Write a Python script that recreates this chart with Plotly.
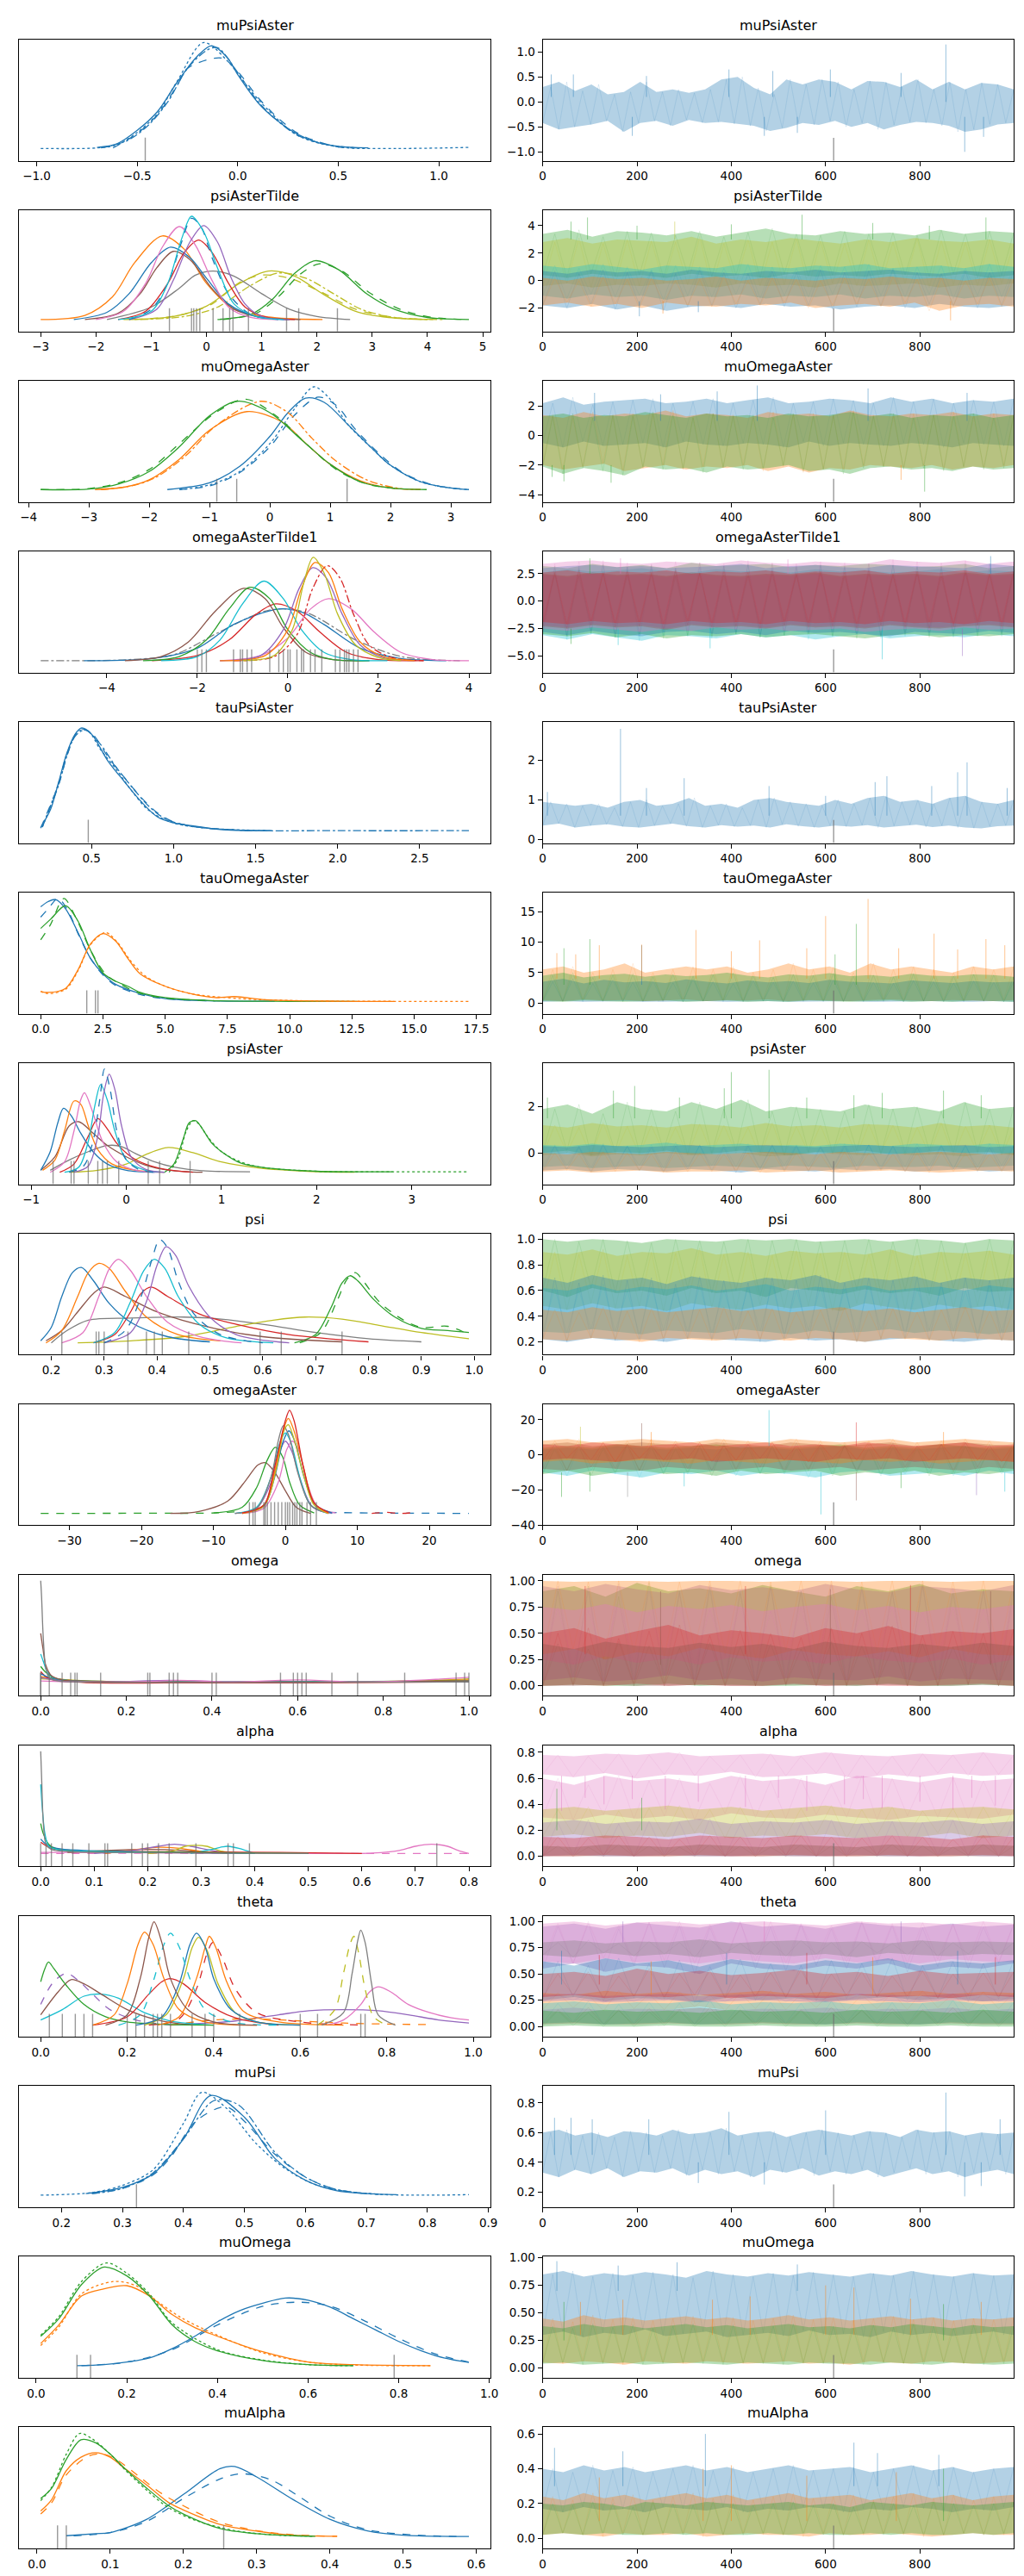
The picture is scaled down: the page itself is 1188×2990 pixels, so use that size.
import plotly.graph_objects as go

W, H = 1188, 2990

TAB10 = {"C0": "#1f77b4", "C1": "#ff7f0e", "C2": "#2ca02c", "C3": "#d62728", "C4": "#9467bd",
         "C5": "#8c564b", "C6": "#e377c2", "C7": "#7f7f7f", "C8": "#bcbd22", "C9": "#17becf"}

N_DRAWS = 999
DIVERGENT_DRAWS = [617]
TRACE_XTICKS = [0, 200, 400, 600, 800]

# ---------------- muPsiAster ----------------
MUPSIASTER_KDE = [
    ("C0", "solid", [-0.7, -0.6, -0.5, -0.4, -0.3, -0.2, -0.13, -0.05, 0.0, 0.1, 0.2, 0.3, 0.4, 0.5, 0.65],
     [0.015, 0.05, 0.18, 0.36, 0.65, 0.9, 1.0, 0.88, 0.72, 0.45, 0.27, 0.14, 0.06, 0.025, 0.01]),
    ("C0", "dash", [-0.62, -0.5, -0.4, -0.3, -0.25, -0.08, 0.0, 0.1, 0.2, 0.3, 0.4, 0.5, 0.6],
     [0.01, 0.15, 0.33, 0.62, 0.78, 0.88, 0.75, 0.5, 0.3, 0.15, 0.07, 0.02, 0.01]),
    ("C0", "dot", [-0.98, -0.7, -0.6, -0.5, -0.4, -0.3, -0.17, -0.05, 0.05, 0.15, 0.3, 0.5, 0.8, 1.15],
     [0.005, 0.01, 0.04, 0.16, 0.34, 0.66, 1.03, 0.85, 0.6, 0.38, 0.13, 0.02, 0.005, 0.015]),
    ("C0", "dashdot", [-0.68, -0.55, -0.45, -0.35, -0.25, -0.15, -0.1, 0.0, 0.1, 0.2, 0.3, 0.45, 0.6],
     [0.01, 0.08, 0.22, 0.45, 0.78, 0.96, 0.98, 0.74, 0.46, 0.27, 0.13, 0.04, 0.01]),
]
MUPSIASTER_RUG = [-0.46]
MUPSIASTER_TRACE = [
    ("C0", [-0.42, -0.55, -0.5, -0.45, -0.38, -0.6, -0.42, -0.38, -0.48, -0.36, -0.42, -0.4, -0.44, -0.48, -0.58,
            -0.52, -0.42, -0.46, -0.38, -0.5, -0.42, -0.55, -0.46, -0.4, -0.42, -0.48, -0.6, -0.55, -0.45, -0.42],
     [0.3, 0.4, 0.22, 0.35, 0.15, 0.2, 0.4, 0.2, 0.25, 0.18, 0.25, 0.45, 0.5, 0.28, 0.15,
      0.45, 0.35, 0.45, 0.4, 0.25, 0.42, 0.4, 0.3, 0.45, 0.25, 0.4, 0.25, 0.38, 0.35, 0.25]),
]
MUPSIASTER_SPIKES = [("C0", 18, 0.1, 0.55), ("C0", 65, 0.1, 0.55), ("C0", 220, 0.1, 0.52), ("C0", 395, 0.1, 0.65),
                     ("C0", 488, 0.1, 0.62), ("C0", 855, 0.0, 1.15), ("C0", 895, -0.3, -1.0), ("C0", 760, 0.1, 0.58),
                     ("C0", 190, -0.3, -0.68), ("C0", 470, -0.3, -0.68), ("C0", 540, -0.3, -0.62),
                     ("C0", 610, 0.1, 0.65), ("C0", 935, -0.3, -0.7)]
MUPSIASTER_XTICKS = [-1.0, -0.5, 0.0, 0.5, 1.0]
MUPSIASTER_YTICKS = [-1.0, -0.5, 0.0, 0.5, 1.0]
MUPSIASTER_YRANGE = [-1.18, 1.25]

# ---------------- psiAsterTilde ----------------
PSIASTERTILDE_KDE = [
    ("C8", "solid", [-1.5, -0.6, 0.0, 0.6, 1.12, 1.6, 2.1, 2.7, 3.3, 4.0], [0.0, 0.03, 0.13, 0.35, 0.47, 0.42, 0.25, 0.08, 0.02, 0.0]),
    ("C8", "dash", [-1.3, -0.5, 0.1, 0.6, 1.0, 1.5, 2.1, 2.7, 3.4, 4.2], [0.0, 0.04, 0.15, 0.36, 0.43, 0.4, 0.26, 0.1, 0.02, 0.0]),
    ("C8", "dashdot", [-1.2, -0.4, 0.2, 0.8, 1.3, 1.8, 2.3, 2.8, 3.4, 4.3], [0.0, 0.03, 0.12, 0.33, 0.45, 0.4, 0.25, 0.1, 0.02, 0.0]),
    ("C7", "solid", [-1.8, -1.0, -0.5, -0.2, 0.12, 0.5, 1.0, 1.5, 2.0, 2.6], [0.0, 0.12, 0.3, 0.43, 0.47, 0.42, 0.25, 0.1, 0.03, 0.0]),
    ("C2", "solid", [0.2, 0.8, 1.2, 1.6, 1.97, 2.4, 2.9, 3.4, 4.0, 4.75], [0.0, 0.05, 0.2, 0.45, 0.57, 0.48, 0.25, 0.1, 0.02, 0.0]),
    ("C2", "dash", [0.3, 0.9, 1.3, 1.7, 2.05, 2.45, 2.95, 3.5, 4.1, 4.75], [0.0, 0.06, 0.22, 0.44, 0.54, 0.47, 0.26, 0.1, 0.02, 0.0]),
    ("C1", "solid", [-3.0, -2.2, -1.7, -1.3, -0.8, -0.4, 0.0, 0.5, 1.2, 2.1], [0.0, 0.04, 0.22, 0.55, 0.81, 0.68, 0.35, 0.1, 0.02, 0.0]),
    ("C5", "solid", [-2.2, -1.6, -1.2, -0.9, -0.6, -0.3, 0.1, 0.5, 1.0, 1.7], [0.0, 0.06, 0.25, 0.5, 0.66, 0.58, 0.3, 0.1, 0.02, 0.0]),
    ("C0", "solid", [-2.4, -1.8, -1.4, -1.0, -0.65, -0.3, 0.0, 0.4, 0.9, 1.5], [0.0, 0.07, 0.25, 0.55, 0.7, 0.6, 0.4, 0.15, 0.03, 0.0]),
    ("C3", "solid", [-1.6, -1.1, -0.7, -0.4, -0.14, 0.1, 0.4, 0.7, 1.1, 1.6], [0.0, 0.08, 0.35, 0.65, 0.77, 0.65, 0.35, 0.12, 0.02, 0.0]),
    ("C6", "solid", [-2.0, -1.5, -1.1, -0.8, -0.49, -0.2, 0.1, 0.4, 0.8, 1.3], [0.0, 0.08, 0.35, 0.7, 0.9, 0.72, 0.38, 0.12, 0.02, 0.0]),
    ("C4", "solid", [-1.4, -0.9, -0.6, -0.3, -0.05, 0.2, 0.45, 0.7, 1.0, 1.5], [0.0, 0.1, 0.38, 0.75, 0.91, 0.75, 0.4, 0.15, 0.03, 0.0]),
    ("C0", "dash", [-1.4, -1.0, -0.7, -0.45, -0.27, -0.1, 0.1, 0.4, 0.8, 1.3], [0.0, 0.1, 0.35, 0.75, 0.98, 0.9, 0.6, 0.25, 0.05, 0.0]),
    ("C9", "solid", [-1.6, -1.0, -0.7, -0.45, -0.27, -0.05, 0.2, 0.5, 0.9, 1.4], [0.0, 0.08, 0.35, 0.78, 1.0, 0.85, 0.5, 0.15, 0.03, 0.0]),
]
PSIASTERTILDE_RUG = [-0.67, -0.27, -0.23, -0.18, -0.12, 0.12, 0.3, 0.42, 0.48, 0.76, 1.45, 1.67, 2.37]
PSIASTERTILDE_TRACE = [
    ("C2", [0.4, 0.2, 0.5, 0.3, 0.4, 0.2, 0.5, 0.3, 0.4, 0.2, 0.5, 0.3, 0.4, 0.3, 0.5, 0.4, 0.3, 0.5, 0.2, 0.4],
     [3.4, 3.7, 3.2, 3.6, 3.5, 3.3, 3.6, 3.2, 3.5, 3.8, 3.4, 3.3, 3.6, 3.4, 3.5, 3.3, 3.7, 3.4, 3.6, 3.5]),
    ("C8", [-0.4, -0.2, -0.5, -0.3, -0.4, -0.2, -0.3, -0.5, -0.2, -0.4, -0.3, -0.5, -0.2, -0.4, -0.3, -0.2, -0.5, -0.3, -0.4, -0.2],
     [2.8, 3.1, 2.7, 3.0, 2.9, 2.8, 3.2, 2.7, 3.0, 2.8, 3.1, 2.9, 2.7, 3.0, 2.8, 3.1, 2.9, 2.8, 3.0, 2.7]),
    ("C9", [-1.1, -1.3, -1.0, -1.2, -1.1, -1.4, -1.1, -1.2, -1.0, -1.3, -1.1, -1.2, -1.0, -1.3, -1.1, -1.2, -1.0, -1.3, -1.1, -1.2],
     [1.1, 0.9, 1.2, 1.0, 0.8, 1.1, 1.0, 0.9, 1.2, 1.0, 0.9, 1.1, 1.0, 1.2, 0.9, 1.0, 1.1, 0.9, 1.2, 1.0]),
    ("C0", [-1.8, -2.0, -1.7, -2.1, -1.8, -2.2, -1.9, -1.8, -2.0, -1.7, -1.9, -1.8, -2.1, -1.9, -1.8, -2.0, -1.7, -1.9, -2.0, -1.8],
     [0.7, 0.5, 0.8, 0.6, 0.7, 0.5, 0.8, 0.6, 0.5, 0.7, 0.6, 0.8, 0.6, 0.7, 0.8, 0.6, 0.5, 0.7, 0.6, 0.7]),
    ("C1", [-1.8, -1.6, -1.9, -1.7, -2.0, -1.6, -1.8, -1.9, -1.7, -1.8, -1.6, -2.0, -1.8, -1.7, -1.9, -1.6, -2.2, -1.8, -1.7, -1.9],
     [0.2, 0.0, 0.3, 0.1, 0.2, 0.0, 0.1, 0.3, 0.0, 0.2, 0.1, 0.0, 0.2, 0.1, 0.3, 0.1, 0.2, 0.0, 0.2, 0.1]),
]
PSIASTERTILDE_SPIKES = [("C2", 95, 3.0, 4.6), ("C2", 550, 3.0, 4.8), ("C2", 940, 3.0, 4.6), ("C2", 60, 3.0, 4.3),
                        ("C8", 280, 3.0, 4.3), ("C2", 200, 3.0, 4.0), ("C2", 400, 3.0, 4.1), ("C2", 700, 3.0, 4.2),
                        ("C2", 820, 3.0, 4.0), ("C1", 865, -1.5, -2.9), ("C0", 205, -1.5, -2.6),
                        ("C0", 330, -1.5, -2.3), ("C1", 255, -1.5, -2.4)]
PSIASTERTILDE_XTICKS = [-3, -2, -1, 0, 1, 2, 3, 4, 5]
PSIASTERTILDE_YTICKS = [-2, 0, 2, 4]
PSIASTERTILDE_YRANGE = [-3.7, 5.14]

# ---------------- muOmegaAster ----------------
MUOMEGAASTER_KDE = [
    ("C0", "solid", [-1.7, -1.0, -0.5, 0.0, 0.3, 0.59, 0.9, 1.3, 1.7, 2.0, 2.5, 3.0, 3.3],
     [0.005, 0.07, 0.23, 0.52, 0.75, 0.89, 0.85, 0.63, 0.4, 0.24, 0.08, 0.02, 0.005]),
    ("C0", "dot", [-1.5, -1.0, -0.5, 0.0, 0.4, 0.73, 1.0, 1.3, 1.7, 2.0, 2.5, 3.0, 3.3],
     [0.005, 0.05, 0.18, 0.45, 0.78, 1.0, 0.88, 0.63, 0.4, 0.24, 0.08, 0.02, 0.005]),
    ("C0", "dash", [-1.5, -1.0, -0.5, 0.0, 0.4, 0.8, 1.1, 1.4, 1.8, 2.2, 2.7, 3.2],
     [0.005, 0.04, 0.17, 0.42, 0.72, 0.9, 0.82, 0.6, 0.36, 0.17, 0.05, 0.01]),
    ("C1", "solid", [-2.9, -2.4, -2.0, -1.5, -1.0, -0.38, 0.2, 0.6, 1.0, 1.5, 2.0, 2.5],
     [0.005, 0.03, 0.1, 0.3, 0.58, 0.76, 0.66, 0.45, 0.25, 0.09, 0.02, 0.005]),
    ("C1", "dashdot", [-2.8, -2.3, -1.9, -1.4, -0.9, -0.15, 0.3, 0.7, 1.1, 1.6, 2.1, 2.5],
     [0.005, 0.04, 0.12, 0.33, 0.62, 0.86, 0.75, 0.5, 0.28, 0.1, 0.02, 0.005]),
    ("C2", "solid", [-3.8, -3.0, -2.5, -2.0, -1.5, -1.0, -0.54, 0.0, 0.5, 1.0, 1.5, 2.0, 2.6],
     [0.005, 0.01, 0.06, 0.18, 0.42, 0.72, 0.86, 0.75, 0.5, 0.25, 0.08, 0.02, 0.005]),
    ("C2", "dash", [-3.8, -3.0, -2.5, -2.0, -1.5, -0.9, -0.4, 0.1, 0.6, 1.1, 1.6, 2.2],
     [0.005, 0.015, 0.07, 0.2, 0.45, 0.75, 0.88, 0.72, 0.45, 0.2, 0.06, 0.01]),
]
MUOMEGAASTER_RUG = [-0.88, -0.55, 1.28]
MUOMEGAASTER_TRACE = [
    ("C0", [-0.5, -0.8, -0.4, -0.7, -0.6, -0.5, -0.8, -0.4, -0.6, -0.7, -0.5, -0.6, -0.8, -0.4, -0.7, -0.5, -0.6, -0.7, -0.5, -0.6, -0.8, -0.5, -0.6, -0.7],
     [2.2, 2.6, 2.1, 2.3, 2.4, 2.5, 2.2, 2.3, 2.5, 2.2, 2.4, 2.6, 2.2, 2.3, 2.5, 2.4, 2.2, 2.6, 2.3, 2.5, 2.2, 2.4, 2.3, 2.5]),
    ("C1", [-2.0, -2.3, -2.1, -1.9, -2.4, -2.2, -2.0, -2.3, -2.1, -2.2, -2.0, -2.4, -2.1, -2.5, -2.2, -2.3, -2.0, -2.1, -2.2, -2.0, -2.3, -2.1, -2.2, -2.0],
     [1.4, 1.2, 1.6, 1.3, 1.5, 1.4, 1.7, 1.3, 1.5, 1.4, 1.2, 1.6, 1.4, 1.5, 1.3, 1.7, 1.4, 1.3, 1.5, 1.4, 1.6, 1.3, 1.5, 1.4]),
    ("C2", [-2.1, -2.6, -2.2, -2.4, -2.7, -2.1, -2.3, -2.2, -2.5, -2.1, -2.3, -2.2, -2.0, -2.4, -2.3, -2.6, -2.2, -2.1, -2.3, -2.2, -2.4, -2.1, -2.3, -2.2],
     [1.3, 1.5, 1.2, 1.4, 1.3, 1.6, 1.4, 1.2, 1.5, 1.3, 1.4, 1.2, 1.5, 1.3, 1.4, 1.6, 1.3, 1.5, 1.2, 1.4, 1.3, 1.5, 1.2, 1.4]),
]
MUOMEGAASTER_SPIKES = [("C0", 455, 1.0, 3.4), ("C0", 690, 1.0, 3.2), ("C0", 110, 1.0, 2.9), ("C0", 370, 1.0, 3.0),
                       ("C0", 250, 1.0, 2.8), ("C0", 900, 1.0, 2.9), ("C1", 760, -2.0, -3.0), ("C2", 45, -2.0, -3.1),
                       ("C2", 145, -2.0, -3.2), ("C2", 810, -2.0, -3.8), ("C2", 20, -2.0, -2.8)]
MUOMEGAASTER_XTICKS = [-4, -3, -2, -1, 0, 1, 2, 3]
MUOMEGAASTER_YTICKS = [-4, -2, 0, 2]
MUOMEGAASTER_YRANGE = [-4.5, 3.73]

# ---------------- omegaAsterTilde1 ----------------
OMEGAASTERTILDE1_KDE = [
    ("C7", "dashdot", [-5.46, -3.5, -2.5, -1.5, -0.5, 0.0, 0.5, 1.5, 2.5, 3.8], [0.0, 0.01, 0.06, 0.28, 0.48, 0.5, 0.45, 0.2, 0.04, 0.0]),
    ("C0", "solid", [-4.5, -3.0, -2.0, -1.2, -0.2, 0.3, 0.8, 1.6, 2.5, 3.5], [0.0, 0.02, 0.12, 0.35, 0.5, 0.47, 0.35, 0.12, 0.02, 0.0]),
    ("C3", "solid", [-3.0, -2.0, -1.3, -0.7, -0.27, 0.2, 0.7, 1.3, 2.0, 3.0], [0.0, 0.05, 0.2, 0.45, 0.55, 0.48, 0.28, 0.08, 0.01, 0.0]),
    ("C5", "solid", [-3.6, -2.8, -2.2, -1.6, -0.98, -0.5, -0.1, 0.4, 1.0, 1.8], [0.0, 0.04, 0.18, 0.48, 0.7, 0.6, 0.32, 0.08, 0.01, 0.0]),
    ("C2", "solid", [-3.2, -2.4, -1.8, -1.3, -0.84, -0.4, 0.0, 0.5, 1.0, 1.8], [0.0, 0.04, 0.2, 0.5, 0.71, 0.6, 0.3, 0.08, 0.01, 0.0]),
    ("C9", "solid", [-2.8, -2.0, -1.5, -1.0, -0.53, -0.1, 0.3, 0.8, 1.4, 2.2], [0.0, 0.04, 0.2, 0.55, 0.77, 0.6, 0.3, 0.08, 0.01, 0.0]),
    ("C6", "solid", [-1.5, -0.6, 0.0, 0.5, 0.9, 1.4, 1.9, 2.5, 3.2, 4.0], [0.0, 0.05, 0.22, 0.5, 0.6, 0.5, 0.28, 0.08, 0.01, 0.0]),
    ("C4", "solid", [-1.5, -0.6, -0.1, 0.25, 0.55, 0.85, 1.2, 1.6, 2.1, 2.8], [0.0, 0.05, 0.3, 0.7, 0.9, 0.8, 0.45, 0.15, 0.03, 0.0]),
    ("C3", "dashdot", [-1.2, -0.3, 0.2, 0.55, 0.87, 1.15, 1.45, 1.8, 2.3, 3.0], [0.0, 0.04, 0.25, 0.7, 0.92, 0.8, 0.45, 0.15, 0.03, 0.0]),
    ("C1", "solid", [-1.5, -0.5, 0.0, 0.3, 0.6, 0.9, 1.2, 1.6, 2.1, 2.8], [0.0, 0.05, 0.3, 0.7, 0.95, 0.85, 0.5, 0.18, 0.04, 0.0]),
    ("C8", "solid", [-1.0, -0.3, 0.1, 0.35, 0.56, 0.8, 1.1, 1.5, 2.0, 2.5], [0.0, 0.05, 0.3, 0.75, 1.0, 0.85, 0.45, 0.15, 0.03, 0.0]),
]
OMEGAASTERTILDE1_RUG = [-2.0, -1.9, -1.8, -1.2, -1.05, -1.0, -0.9, -0.8, -0.4, -0.2, -0.1, 0.0, 0.05, 0.2, 0.3,
                        0.35, 0.5, 0.6, 0.75, 1.05, 1.15, 1.25, 1.3, 1.35, 1.45, 1.55]
OMEGAASTERTILDE1_TRACE = [
    ("C9", [-3.1, -3.5, -3.0, -3.3, -3.6, -3.1, -3.2, -3.4, -3.0, -3.3, -3.1, -3.5, -3.2, -3.0, -3.4, -3.2, -3.1, -3.3, -3.0, -3.2],
     [2.6, 2.9, 2.7, 2.8, 3.0, 2.7, 2.6, 2.9, 2.7, 2.8, 2.6, 2.9, 2.7, 2.8, 2.6, 2.7, 2.9, 2.6, 2.8, 2.7]),
    ("C2", [-3.0, -3.2, -2.9, -3.3, -3.0, -3.4, -3.1, -3.2, -3.0, -3.3, -3.1, -3.0, -3.2, -3.4, -3.1, -3.0, -3.3, -3.1, -3.2, -3.0],
     [3.2, 3.0, 3.4, 3.1, 3.3, 3.0, 3.5, 3.2, 3.3, 3.4, 3.1, 3.3, 3.2, 3.4, 3.3, 3.1, 3.2, 3.4, 3.0, 3.2]),
    ("C0", [-2.8, -3.1, -2.7, -3.0, -3.2, -2.8, -2.7, -3.0, -2.8, -3.1, -2.7, -2.9, -2.8, -3.0, -3.2, -2.8, -2.9, -3.0, -2.7, -2.9],
     [3.0, 3.2, 3.3, 3.1, 3.2, 3.0, 3.1, 3.2, 3.4, 3.0, 3.2, 3.3, 3.1, 3.0, 3.3, 3.2, 3.1, 3.0, 3.4, 3.2]),
    ("C6", [-2.5, -2.7, -2.4, -2.6, -2.8, -2.5, -2.7, -2.4, -2.6, -2.5, -2.7, -2.6, -2.5, -2.8, -2.6, -2.5, -2.7, -2.4, -2.6, -2.5],
     [3.4, 3.6, 3.7, 3.5, 3.4, 3.6, 3.5, 3.4, 3.7, 3.5, 3.4, 3.6, 3.5, 3.4, 3.8, 3.6, 3.5, 3.7, 3.4, 3.6]),
    ("C4", [-2.2, -2.4, -2.1, -2.3, -2.2, -2.5, -2.1, -2.3, -2.2, -2.4, -2.1, -2.3, -2.2, -2.4, -2.1, -2.3, -2.4, -2.2, -2.1, -2.3],
     [2.4, 2.2, 2.5, 2.3, 2.4, 2.2, 2.5, 2.3, 2.2, 2.4, 2.3, 2.5, 2.2, 2.4, 2.3, 2.4, 2.2, 2.5, 2.3, 2.4]),
    ("C5", [-2.3, -2.5, -2.2, -2.4, -2.3, -2.6, -2.2, -2.4, -2.3, -2.5, -2.2, -2.4, -2.3, -2.5, -2.2, -2.4, -2.5, -2.3, -2.2, -2.4],
     [2.5, 2.3, 2.6, 2.4, 2.5, 2.3, 2.6, 2.4, 2.3, 2.5, 2.4, 2.6, 2.3, 2.5, 2.4, 2.5, 2.3, 2.6, 2.4, 2.5]),
    ("C3", [-1.9, -2.1, -1.8, -2.0, -1.9, -2.1, -1.8, -2.0, -1.9, -2.1, -1.8, -2.0, -1.9, -2.1, -1.8, -2.0, -1.9, -2.1, -1.8, -2.0],
     [2.6, 2.8, 2.5, 2.7, 2.6, 2.8, 2.5, 2.7, 2.6, 2.8, 2.5, 2.7, 2.6, 2.8, 2.5, 2.7, 2.6, 2.8, 2.5, 2.7]),
]
OMEGAASTERTILDE1_SPIKES = [("C9", 720, -2.5, -5.3), ("C4", 890, -2.5, -5.0), ("C9", 355, -2.5, -4.3),
                           ("C2", 100, 2.5, 3.9), ("C6", 165, 2.5, 3.9), ("C0", 950, 2.5, 4.1), ("C2", 60, -2.5, -3.9),
                           ("C6", 520, 2.5, 3.8), ("C9", 160, -2.5, -4.0)]
OMEGAASTERTILDE1_XTICKS = [-4, -2, 0, 2, 4]
OMEGAASTERTILDE1_YTICKS = [-5.0, -2.5, 0.0, 2.5]
OMEGAASTERTILDE1_YRANGE = [-6.5, 4.55]

# ---------------- tauPsiAster ----------------
TAUPSIASTER_KDE = [
    ("C0", "solid", [0.19, 0.25, 0.3, 0.35, 0.4, 0.44, 0.5, 0.6, 0.7, 0.8, 0.9, 1.0, 1.1, 1.3, 1.6],
     [0.036, 0.21, 0.48, 0.76, 0.94, 1.0, 0.94, 0.68, 0.48, 0.29, 0.14, 0.08, 0.055, 0.015, 0.005]),
    ("C0", "dashdot", [0.2, 0.3, 0.35, 0.4, 0.46, 0.55, 0.65, 0.75, 0.85, 0.95, 1.1, 1.4, 2.0, 2.8],
     [0.04, 0.45, 0.73, 0.92, 0.98, 0.85, 0.62, 0.42, 0.24, 0.12, 0.05, 0.01, 0.005, 0.005]),
    ("C0", "dot", [0.2, 0.3, 0.35, 0.42, 0.48, 0.55, 0.65, 0.75, 0.85, 1.0, 1.2, 1.6],
     [0.04, 0.47, 0.75, 0.97, 0.97, 0.8, 0.6, 0.38, 0.2, 0.08, 0.03, 0.005]),
    ("C0", "dash", [0.19, 0.3, 0.36, 0.43, 0.5, 0.6, 0.7, 0.8, 0.9, 1.0, 1.2, 1.5],
     [0.03, 0.46, 0.78, 0.99, 0.95, 0.72, 0.52, 0.33, 0.18, 0.09, 0.03, 0.005]),
]
TAUPSIASTER_RUG = [0.48]
TAUPSIASTER_TRACE = [
    ("C0", [0.35, 0.4, 0.3, 0.35, 0.38, 0.32, 0.3, 0.35, 0.4, 0.33, 0.3, 0.36, 0.32, 0.35, 0.3,
            0.38, 0.33, 0.3, 0.35, 0.32, 0.36, 0.3, 0.34, 0.37, 0.31, 0.35, 0.3, 0.28, 0.33, 0.35],
     [0.95, 0.9, 0.85, 0.9, 0.8, 0.95, 1.0, 0.85, 0.9, 1.05, 0.85, 0.9, 0.8, 1.0, 1.05,
      0.95, 0.9, 0.85, 1.0, 0.9, 1.05, 1.1, 0.95, 1.0, 0.9, 1.05, 1.1, 0.95, 0.9, 1.0]),
]
TAUPSIASTER_SPIKES = [("C0", 165, 0.6, 2.8), ("C0", 300, 0.6, 1.55), ("C0", 220, 0.6, 1.3), ("C0", 480, 0.6, 1.35),
                      ("C0", 705, 0.6, 1.45), ("C0", 730, 0.6, 1.6), ("C0", 825, 0.6, 1.35), ("C0", 880, 0.6, 1.7),
                      ("C0", 900, 0.6, 1.95), ("C0", 985, 0.6, 1.3), ("C0", 10, 0.6, 1.2), ("C0", 600, 0.6, 1.1)]
TAUPSIASTER_XTICKS = [0.5, 1.0, 1.5, 2.0, 2.5]
TAUPSIASTER_YTICKS = [0, 1, 2]
TAUPSIASTER_YRANGE = [-0.095, 2.98]

# ---------------- tauOmegaAster ----------------
TAUOMEGAASTER_KDE = [
    ("C0", "solid", [0.0, 0.3, 0.6, 1.0, 1.5, 2.0, 2.5, 3.0, 4.0, 5.0, 7.0, 9.4],
     [0.92, 0.97, 0.99, 0.9, 0.67, 0.42, 0.27, 0.17, 0.08, 0.03, 0.008, 0.005]),
    ("C0", "dash", [0.0, 0.3, 0.7, 1.1, 1.5, 2.0, 2.5, 3.0, 4.0, 5.0, 7.0],
     [0.82, 0.9, 1.0, 0.88, 0.66, 0.42, 0.26, 0.16, 0.07, 0.03, 0.008]),
    ("C2", "solid", [0.0, 0.4, 1.0, 1.5, 2.0, 2.5, 3.0, 3.5, 4.0, 5.0, 7.0, 10.0, 12.7],
     [0.71, 0.8, 0.93, 0.78, 0.5, 0.28, 0.2, 0.15, 0.09, 0.04, 0.01, 0.004, 0.003]),
    ("C2", "dash", [0.0, 0.4, 0.93, 1.4, 2.0, 2.6, 3.2, 4.0, 5.0, 7.0],
     [0.6, 0.75, 1.0, 0.82, 0.5, 0.27, 0.17, 0.08, 0.035, 0.01]),
    ("C1", "solid", [0.0, 0.3, 1.0, 1.5, 2.0, 2.5, 3.0, 3.5, 4.0, 5.0, 6.0, 7.0, 7.8, 9.0, 12.0, 14.2],
     [0.1, 0.09, 0.13, 0.31, 0.56, 0.66, 0.59, 0.42, 0.27, 0.15, 0.08, 0.04, 0.05, 0.02, 0.005, 0.003]),
    ("C1", "dot", [0.0, 0.3, 1.0, 1.5, 2.0, 2.6, 3.1, 3.6, 4.2, 5.0, 6.0, 8.0, 11.0, 14.0, 17.2],
     [0.1, 0.08, 0.12, 0.3, 0.55, 0.67, 0.57, 0.4, 0.25, 0.15, 0.08, 0.03, 0.008, 0.004, 0.003]),
]
TAUOMEGAASTER_RUG = [1.85, 2.2, 2.3]
TAUOMEGAASTER_TRACE = [
    ("C1", [0.5, 0.3, 0.6, 0.4, 0.5, 0.3, 0.4, 0.6, 0.3, 0.5, 0.4, 0.6, 0.3, 0.5, 0.4, 0.3, 0.5, 0.6, 0.4, 0.3, 0.5, 0.4, 0.3, 0.5],
     [5.5, 6.0, 5.0, 5.5, 6.5, 5.0, 5.5, 6.0, 5.5, 6.0, 5.0, 5.5, 6.5, 5.5, 6.0, 5.0, 6.5, 5.5, 6.0, 5.5, 5.0, 6.0, 5.5, 6.0]),
    ("C0", [0.2, 0.3, 0.2, 0.25, 0.3, 0.2, 0.25, 0.2, 0.3, 0.2, 0.25, 0.3, 0.2, 0.25, 0.2, 0.3, 0.2, 0.25, 0.2, 0.3, 0.25, 0.2, 0.3, 0.2],
     [3.5, 4.0, 3.2, 3.8, 3.4, 3.6, 3.3, 3.9, 3.5, 3.2, 3.7, 3.4, 3.6, 3.3, 3.8, 3.5, 3.4, 3.2, 3.7, 3.5, 3.3, 3.6, 3.4, 3.5]),
    ("C2", [0.3, 0.2, 0.4, 0.3, 0.2, 0.3, 0.4, 0.2, 0.3, 0.4, 0.2, 0.3, 0.2, 0.4, 0.3, 0.2, 0.3, 0.4, 0.2, 0.3, 0.2, 0.4, 0.3, 0.2],
     [4.5, 5.0, 4.2, 4.6, 4.8, 4.3, 4.7, 4.4, 4.6, 5.0, 4.5, 4.2, 4.7, 4.5, 4.9, 4.4, 4.6, 4.3, 4.8, 4.5, 4.4, 4.7, 4.6, 4.3]),
]
TAUOMEGAASTER_SPIKES = [("C1", 30, 4.0, 8.2), ("C1", 120, 4.0, 9.5), ("C1", 210, 4.0, 9.6), ("C1", 325, 4.0, 12.0),
                        ("C1", 460, 4.0, 10.3), ("C1", 600, 4.0, 14.3), ("C1", 690, 4.0, 17.1), ("C1", 755, 4.0, 9.0),
                        ("C1", 830, 4.0, 11.4), ("C1", 940, 4.0, 10.5), ("C1", 980, 4.0, 9.5), ("C1", 560, 4.0, 9.0),
                        ("C1", 70, 4.0, 8.0), ("C1", 400, 4.0, 8.5), ("C1", 880, 4.0, 8.8),
                        ("C2", 100, 3.0, 10.5), ("C2", 665, 3.0, 13.0), ("C2", 45, 3.0, 9.0), ("C2", 620, 3.0, 8.0),
                        ("C0", 210, 3.0, 9.5)]
TAUOMEGAASTER_XTICKS = [0.0, 2.5, 5.0, 7.5, 10.0, 12.5, 15.0, 17.5]
TAUOMEGAASTER_YTICKS = [0, 5, 10, 15]
TAUOMEGAASTER_YRANGE = [-1.75, 18.2]

# ---------------- psiAster ----------------
PSIASTER_KDE = [
    ("C7", "solid", [-0.8, -0.6, -0.4, -0.2, -0.05, 0.1, 0.3, 0.5, 0.8, 1.3], [0.02, 0.12, 0.2, 0.26, 0.25, 0.18, 0.1, 0.05, 0.015, 0.005]),
    ("C8", "solid", [-0.6, -0.3, 0.0, 0.2, 0.44, 0.7, 1.0, 1.4, 1.9, 2.4], [0.0, 0.02, 0.08, 0.17, 0.24, 0.19, 0.1, 0.04, 0.01, 0.0]),
    ("C2", "solid", [0.4, 0.5, 0.6, 0.66, 0.73, 0.8, 0.9, 1.0, 1.2, 1.5, 2.0, 2.8],
     [0.0, 0.08, 0.33, 0.48, 0.5, 0.42, 0.28, 0.2, 0.09, 0.04, 0.01, 0.005]),
    ("C2", "dot", [0.45, 0.55, 0.63, 0.7, 0.76, 0.85, 1.0, 1.3, 2.0, 2.8, 3.6],
     [0.0, 0.15, 0.4, 0.5, 0.47, 0.35, 0.2, 0.07, 0.01, 0.005, 0.005]),
    ("C5", "solid", [-0.9, -0.75, -0.6, -0.5, -0.35, -0.2, 0.0, 0.2, 0.45, 0.8], [0.02, 0.15, 0.45, 0.49, 0.38, 0.26, 0.15, 0.07, 0.02, 0.0]),
    ("C3", "solid", [-0.7, -0.55, -0.4, -0.3, -0.2, -0.1, 0.05, 0.2, 0.4, 0.7], [0.0, 0.08, 0.35, 0.52, 0.42, 0.28, 0.15, 0.08, 0.03, 0.0]),
    ("C0", "solid", [-0.9, -0.8, -0.72, -0.66, -0.58, -0.48, -0.35, -0.2, 0.0, 0.3], [0.02, 0.2, 0.48, 0.62, 0.55, 0.38, 0.2, 0.08, 0.02, 0.0]),
    ("C1", "solid", [-0.88, -0.75, -0.65, -0.55, -0.48, -0.4, -0.3, -0.15, 0.1, 0.4], [0.02, 0.12, 0.4, 0.69, 0.66, 0.45, 0.22, 0.08, 0.02, 0.0]),
    ("C6", "solid", [-0.8, -0.65, -0.55, -0.48, -0.44, -0.36, -0.25, -0.1, 0.1, 0.4], [0.0, 0.1, 0.4, 0.7, 0.77, 0.6, 0.3, 0.1, 0.02, 0.0]),
    ("C9", "solid", [-0.65, -0.5, -0.4, -0.33, -0.27, -0.2, -0.12, 0.0, 0.2, 0.4], [0.0, 0.05, 0.3, 0.65, 0.85, 0.7, 0.4, 0.12, 0.02, 0.0]),
    ("C4", "solid", [-0.55, -0.4, -0.3, -0.24, -0.18, -0.12, -0.05, 0.05, 0.2, 0.4], [0.0, 0.06, 0.35, 0.75, 0.95, 0.8, 0.45, 0.15, 0.03, 0.0]),
    ("C0", "dash", [-0.6, -0.45, -0.35, -0.28, -0.23, -0.17, -0.1, 0.0, 0.15, 0.35], [0.0, 0.06, 0.3, 0.7, 1.0, 0.8, 0.4, 0.12, 0.02, 0.0]),
]
PSIASTER_RUG = [-0.77, -0.58, -0.55, -0.4, -0.3, -0.25, -0.2, -0.08, 0.23, 0.35, 0.67]
PSIASTER_TRACE = [
    ("C2", [0.0, 0.1, -0.1, 0.05, 0.0, 0.1, -0.05, 0.0, 0.1, 0.0, -0.1, 0.05, 0.0, 0.1, -0.05, 0.0, 0.1, 0.0, 0.05, -0.05],
     [1.9, 2.1, 1.7, 2.2, 1.9, 1.8, 2.2, 1.9, 2.3, 1.8, 2.0, 1.9, 1.8, 2.1, 1.9, 2.0, 1.8, 2.2, 1.9, 2.0]),
    ("C8", [-0.1, 0.0, -0.15, -0.05, -0.1, 0.0, -0.1, -0.05, 0.0, -0.15, -0.1, 0.0, -0.05, -0.1, 0.0, -0.1, -0.05, -0.15, 0.0, -0.1],
     [1.2, 1.1, 1.3, 1.15, 1.2, 1.1, 1.25, 1.2, 1.1, 1.3, 1.15, 1.2, 1.1, 1.25, 1.2, 1.1, 1.3, 1.15, 1.2, 1.1]),
    ("C9", [-0.6, -0.55, -0.65, -0.6, -0.55, -0.65, -0.6, -0.55, -0.6, -0.65, -0.55, -0.6, -0.65, -0.55, -0.6, -0.6, -0.55, -0.65, -0.6, -0.55],
     [0.35, 0.3, 0.4, 0.3, 0.35, 0.45, 0.3, 0.35, 0.4, 0.3, 0.35, 0.3, 0.4, 0.35, 0.3, 0.4, 0.35, 0.3, 0.4, 0.35]),
    ("C0", [-0.75, -0.7, -0.8, -0.7, -0.75, -0.8, -0.7, -0.75, -0.85, -0.7, -0.75, -0.8, -0.7, -0.75, -0.7, -0.8, -0.75, -0.7, -0.8, -0.75],
     [0.3, 0.25, 0.35, 0.3, 0.25, 0.3, 0.35, 0.25, 0.3, 0.35, 0.3, 0.25, 0.3, 0.35, 0.3, 0.25, 0.3, 0.35, 0.25, 0.3]),
    ("C1", [-0.8, -0.75, -0.85, -0.8, -0.75, -0.85, -0.8, -0.8, -0.75, -0.85, -0.8, -0.75, -0.85, -0.8, -0.75, -0.8, -0.85, -0.8, -0.75, -0.8],
     [0.0, -0.05, 0.05, 0.0, -0.05, 0.05, 0.0, -0.05, 0.0, 0.05, 0.0, -0.05, 0.05, 0.0, -0.05, 0.0, 0.05, 0.0, -0.05, 0.0]),
]
PSIASTER_SPIKES = [("C2", 10, 1.5, 2.4), ("C2", 150, 1.5, 2.7), ("C2", 195, 1.5, 2.9), ("C2", 385, 1.5, 2.8),
                   ("C2", 400, 1.5, 3.5), ("C2", 480, 1.5, 3.6), ("C2", 660, 1.5, 2.5), ("C2", 720, 1.5, 2.6),
                   ("C2", 850, 1.5, 2.7), ("C2", 930, 1.5, 2.5), ("C2", 290, 1.5, 2.4), ("C2", 560, 1.5, 2.4)]
PSIASTER_XTICKS = [-1, 0, 1, 2, 3]
PSIASTER_YTICKS = [0, 2]
PSIASTER_YRANGE = [-1.35, 3.9]

# ---------------- psi ----------------
PSI_KDE = [
    ("C7", "solid", [0.2, 0.23, 0.27, 0.35, 0.45, 0.5, 0.6, 0.7, 0.8, 0.9], [0.0, 0.12, 0.22, 0.24, 0.25, 0.24, 0.18, 0.1, 0.04, 0.01]),
    ("C8", "solid", [0.25, 0.35, 0.45, 0.55, 0.62, 0.68, 0.75, 0.82, 0.9, 0.99], [0.0, 0.02, 0.06, 0.16, 0.22, 0.25, 0.23, 0.17, 0.1, 0.04]),
    ("C2", "solid", [0.66, 0.7, 0.73, 0.75, 0.765, 0.78, 0.81, 0.85, 0.9, 0.95, 0.99], [0.0, 0.08, 0.35, 0.58, 0.65, 0.6, 0.42, 0.25, 0.14, 0.12, 0.1]),
    ("C2", "dash", [0.67, 0.71, 0.74, 0.76, 0.775, 0.79, 0.82, 0.86, 0.9, 0.95, 0.99], [0.0, 0.1, 0.4, 0.62, 0.68, 0.6, 0.4, 0.24, 0.15, 0.16, 0.08]),
    ("C5", "solid", [0.19, 0.22, 0.25, 0.28, 0.30, 0.34, 0.4, 0.5, 0.6, 0.75], [0.02, 0.12, 0.3, 0.48, 0.54, 0.45, 0.3, 0.15, 0.06, 0.01]),
    ("C3", "solid", [0.28, 0.32, 0.35, 0.37, 0.389, 0.42, 0.48, 0.55, 0.65, 0.8], [0.0, 0.08, 0.3, 0.48, 0.54, 0.45, 0.28, 0.18, 0.08, 0.01]),
    ("C0", "solid", [0.18, 0.2, 0.22, 0.24, 0.257, 0.28, 0.31, 0.35, 0.42, 0.5], [0.02, 0.15, 0.45, 0.68, 0.73, 0.6, 0.38, 0.2, 0.06, 0.01]),
    ("C1", "solid", [0.19, 0.22, 0.25, 0.27, 0.29, 0.31, 0.34, 0.38, 0.44, 0.52], [0.0, 0.12, 0.45, 0.68, 0.77, 0.72, 0.5, 0.25, 0.08, 0.02]),
    ("C6", "solid", [0.22, 0.26, 0.29, 0.31, 0.327, 0.35, 0.38, 0.42, 0.48, 0.56], [0.0, 0.1, 0.45, 0.72, 0.81, 0.7, 0.45, 0.2, 0.06, 0.0]),
    ("C9", "solid", [0.28, 0.32, 0.35, 0.375, 0.395, 0.415, 0.44, 0.48, 0.53, 0.62], [0.0, 0.1, 0.4, 0.7, 0.81, 0.72, 0.45, 0.18, 0.05, 0.0]),
    ("C4", "solid", [0.3, 0.35, 0.38, 0.4, 0.417, 0.435, 0.46, 0.5, 0.55, 0.65], [0.0, 0.1, 0.4, 0.75, 0.93, 0.85, 0.55, 0.25, 0.08, 0.0]),
    ("C0", "dash", [0.3, 0.34, 0.37, 0.39, 0.405, 0.42, 0.44, 0.47, 0.52, 0.6], [0.0, 0.12, 0.45, 0.8, 1.0, 0.92, 0.6, 0.28, 0.08, 0.0]),
]
PSI_RUG = [0.22, 0.285, 0.29, 0.3, 0.345, 0.38, 0.395, 0.41, 0.46, 0.595, 0.635, 0.75]
PSI_TRACE = [
    ("C2", [0.6, 0.55, 0.62, 0.58, 0.6, 0.56, 0.62, 0.58, 0.6, 0.55, 0.62, 0.6, 0.57, 0.61, 0.58, 0.6, 0.56, 0.62, 0.59, 0.6],
     [1.0, 0.98, 1.0, 0.99, 0.97, 1.0, 0.99, 0.98, 1.0, 0.99, 1.0, 0.98, 0.99, 1.0, 0.98, 1.0, 0.99, 0.97, 1.0, 0.99]),
    ("C8", [0.48, 0.45, 0.5, 0.46, 0.48, 0.44, 0.5, 0.47, 0.45, 0.49, 0.46, 0.48, 0.44, 0.5, 0.47, 0.45, 0.49, 0.46, 0.48, 0.45],
     [0.9, 0.88, 0.92, 0.87, 0.9, 0.89, 0.93, 0.88, 0.9, 0.87, 0.91, 0.89, 0.9, 0.88, 0.92, 0.87, 0.9, 0.89, 0.91, 0.88]),
    ("C9", [0.28, 0.27, 0.3, 0.28, 0.26, 0.29, 0.28, 0.27, 0.3, 0.28, 0.26, 0.29, 0.27, 0.28, 0.3, 0.27, 0.29, 0.28, 0.26, 0.28],
     [0.62, 0.6, 0.65, 0.6, 0.63, 0.61, 0.64, 0.6, 0.62, 0.65, 0.6, 0.63, 0.61, 0.64, 0.6, 0.62, 0.63, 0.6, 0.64, 0.62]),
    ("C0", [0.22, 0.2, 0.23, 0.21, 0.22, 0.2, 0.23, 0.22, 0.21, 0.2, 0.23, 0.21, 0.22, 0.2, 0.22, 0.23, 0.21, 0.2, 0.22, 0.21],
     [0.7, 0.66, 0.72, 0.68, 0.7, 0.65, 0.71, 0.68, 0.66, 0.7, 0.68, 0.72, 0.66, 0.7, 0.68, 0.71, 0.66, 0.7, 0.68, 0.7]),
    ("C1", [0.22, 0.21, 0.23, 0.22, 0.2, 0.23, 0.22, 0.21, 0.23, 0.22, 0.21, 0.23, 0.22, 0.2, 0.23, 0.22, 0.21, 0.23, 0.22, 0.21],
     [0.45, 0.43, 0.47, 0.44, 0.46, 0.43, 0.45, 0.47, 0.44, 0.46, 0.43, 0.45, 0.47, 0.44, 0.46, 0.43, 0.45, 0.47, 0.44, 0.45]),
]
PSI_SPIKES = []
PSI_XTICKS = [0.2, 0.3, 0.4, 0.5, 0.6, 0.7, 0.8, 0.9, 1.0]
PSI_YTICKS = [0.2, 0.4, 0.6, 0.8, 1.0]
PSI_YRANGE = [0.1, 1.045]

# ---------------- omegaAster ----------------
OMEGAASTER_KDE = [
    ("C2", "dash", [-34.0, -20.0, -10.0, -6.0], [0.0, 0.002, 0.004, 0.02]),
    ("C0", "dash", [6.0, 12.0, 20.0, 25.5], [0.01, 0.004, 0.002, 0.0]),
    ("C5", "solid", [-16.0, -12.0, -8.0, -5.5, -3.8, -2.75, -1.5, 0.0, 1.5, 3.5], [0.0, 0.02, 0.12, 0.32, 0.47, 0.49, 0.4, 0.22, 0.06, 0.0]),
    ("C2", "solid", [-10.0, -6.0, -4.0, -2.5, -1.4, -0.4, 0.6, 2.0, 4.0], [0.005, 0.06, 0.25, 0.52, 0.64, 0.55, 0.3, 0.08, 0.005]),
    ("C4", "solid", [-7.0, -4.0, -2.0, -0.8, 0.0, 0.9, 2.2, 3.8, 6.5], [0.0, 0.05, 0.3, 0.6, 0.7, 0.6, 0.3, 0.06, 0.0]),
    ("C6", "solid", [-6.0, -3.0, -1.0, 0.2, 1.0, 1.9, 3.0, 4.5, 7.0], [0.0, 0.05, 0.3, 0.62, 0.7, 0.6, 0.3, 0.06, 0.005]),
    ("C0", "solid", [-6.0, -3.0, -1.5, -0.3, 0.5, 1.3, 2.6, 4.2, 6.5], [0.005, 0.07, 0.35, 0.7, 0.8, 0.7, 0.35, 0.08, 0.005]),
    ("C9", "solid", [-7.0, -4.0, -2.0, -0.8, 0.0, 0.8, 2.0, 3.5, 6.0], [0.0, 0.06, 0.35, 0.68, 0.78, 0.68, 0.35, 0.08, 0.0]),
    ("C7", "solid", [-7.0, -4.0, -2.0, -1.0, -0.3, 0.5, 1.7, 3.5, 6.0], [0.0, 0.05, 0.35, 0.7, 0.85, 0.75, 0.4, 0.08, 0.0]),
    ("C8", "solid", [-6.0, -3.0, -1.2, -0.2, 0.4, 1.2, 2.5, 4.0, 6.0], [0.0, 0.07, 0.45, 0.8, 0.86, 0.72, 0.38, 0.08, 0.0]),
    ("C1", "solid", [-6.0, -3.0, -1.5, -0.3, 0.4, 1.2, 2.5, 4.0, 6.0], [0.0, 0.08, 0.4, 0.8, 0.92, 0.8, 0.45, 0.1, 0.0]),
    ("C3", "solid", [-6.0, -3.0, -1.5, 0.0, 0.58, 1.2, 2.5, 4.0, 6.0], [0.005, 0.08, 0.45, 0.9, 1.0, 0.9, 0.45, 0.1, 0.01]),
    ("C3", "dash", [12.0, 14.0, 16.0, 18.0], [0.0, 0.01, 0.0, 0.01]),
]
OMEGAASTER_RUG = [-5.0, -4.5, -4.2, -3.0, -2.8, -2.5, -2.0, -1.5, -1.0, -0.5, 0.0, 0.3, 0.6, 1.0, 1.3, 1.6, 2.0, 2.3, 3.0, 3.5, 4.3]
OMEGAASTER_TRACE = [
    ("C9", [-10, -12, -9, -11, -13, -10, -11, -9, -12, -10, -11, -13, -10, -9, -12, -11, -10, -12, -9, -11],
     [3, 4, 3, 5, 4, 3, 4, 3, 5, 4, 3, 4, 5, 3, 4, 3, 4, 5, 3, 4]),
    ("C2", [-11, -9, -12, -10, -9, -11, -10, -12, -9, -11, -10, -9, -12, -10, -11, -9, -12, -10, -11, -9],
     [4, 5, 4, 6, 5, 4, 5, 6, 4, 5, 4, 5, 6, 4, 5, 4, 6, 5, 4, 5]),
    ("C5", [-8, -9, -7, -8, -9, -7, -8, -9, -8, -7, -9, -8, -7, -9, -8, -7, -8, -9, -7, -8],
     [6, 7, 5, 6, 7, 6, 5, 7, 6, 5, 7, 6, 5, 6, 7, 5, 6, 7, 6, 5]),
    ("C1", [-4, -3, -5, -4, -3, -4, -5, -3, -4, -5, -3, -4, -5, -3, -4, -3, -5, -4, -3, -4],
     [8, 9, 7, 8, 9, 8, 7, 9, 8, 7, 9, 8, 7, 8, 9, 7, 8, 9, 8, 7]),
    ("C3", [-3, -2, -3, -4, -2, -3, -2, -4, -3, -2, -3, -4, -2, -3, -2, -4, -3, -2, -3, -4],
     [6, 5, 7, 6, 5, 6, 7, 5, 6, 7, 5, 6, 5, 7, 6, 5, 6, 7, 5, 6]),
]
OMEGAASTER_SPIKES = [("C9", 480, 5, 25.5), ("C5", 210, 5, 18), ("C3", 665, 5, 18.5), ("C8", 80, 5, 16),
                     ("C9", 590, -10, -34), ("C5", 665, -10, -26), ("C2", 40, -10, -24), ("C2", 100, -10, -21),
                     ("C7", 180, -10, -24), ("C4", 920, -10, -23), ("C9", 980, -10, -21), ("C1", 230, 5, 13),
                     ("C9", 300, -10, -18), ("C2", 760, -10, -19), ("C1", 850, 5, 13)]
OMEGAASTER_XTICKS = [-30, -20, -10, 0, 10, 20]
OMEGAASTER_YTICKS = [-40, -20, 0, 20]
OMEGAASTER_YRANGE = [-40.2, 29]

# ---------------- omega ----------------
OMEGA_KDE = [
    ("C8", "solid", [0.0, 0.2, 0.4, 0.6, 0.8, 0.95, 1.0], [0.05, 0.02, 0.015, 0.02, 0.025, 0.04, 0.05]),
    ("C1", "solid", [0.0, 0.1, 0.3, 0.5, 0.7, 0.9, 1.0], [0.07, 0.025, 0.015, 0.015, 0.02, 0.03, 0.04]),
    ("C3", "solid", [0.0, 0.02, 0.1, 0.3, 0.5, 0.7, 1.0], [0.12, 0.05, 0.015, 0.01, 0.01, 0.012, 0.02]),
    ("C0", "solid", [0.0, 0.01, 0.03, 0.08, 0.2, 0.5, 0.8, 1.0], [0.1, 0.08, 0.05, 0.03, 0.02, 0.02, 0.02, 0.02]),
    ("C4", "solid", [0.0, 0.05, 0.15, 0.3, 0.45, 0.6, 0.8, 1.0], [0.06, 0.03, 0.02, 0.035, 0.02, 0.025, 0.02, 0.03]),
    ("C2", "solid", [0.0, 0.01, 0.03, 0.06, 0.12, 0.3, 0.6, 1.0], [0.17, 0.12, 0.06, 0.035, 0.025, 0.02, 0.02, 0.03]),
    ("C9", "solid", [0.0, 0.006, 0.015, 0.03, 0.06, 0.15, 0.4, 0.7, 1.0], [0.29, 0.22, 0.12, 0.06, 0.035, 0.025, 0.02, 0.02, 0.02]),
    ("C5", "solid", [0.0, 0.005, 0.012, 0.025, 0.05, 0.1, 0.3, 0.5, 0.8, 1.0], [0.49, 0.35, 0.18, 0.08, 0.04, 0.03, 0.02, 0.02, 0.02, 0.03]),
    ("C6", "solid", [0.0, 0.1, 0.25, 0.32, 0.45, 0.6, 0.75, 0.9, 1.0], [0.03, 0.02, 0.025, 0.035, 0.02, 0.04, 0.02, 0.04, 0.065]),
    ("C7", "solid", [0.0, 0.002, 0.006, 0.012, 0.02, 0.04, 0.1, 0.3, 0.6, 1.0], [1.0, 0.85, 0.45, 0.15, 0.06, 0.03, 0.02, 0.015, 0.015, 0.02]),
]
OMEGA_RUG = [0.0, 0.0, 0.02, 0.05, 0.07, 0.08, 0.085, 0.14, 0.25, 0.255, 0.3, 0.31, 0.32, 0.4, 0.41, 0.56, 0.59,
             0.6, 0.61, 0.62, 0.68, 0.74, 0.85, 0.97, 0.99, 1.0]
OMEGA_TRACE = [
    ("C2", [0.0, 0.01, 0.0, 0.0, 0.02, 0.0, 0.01, 0.0, 0.0, 0.01, 0.0, 0.02, 0.0, 0.0, 0.01, 0.0],
     [0.9, 0.95, 0.85, 0.98, 0.9, 0.93, 0.88, 0.96, 0.9, 0.85, 0.95, 0.9, 0.97, 0.88, 0.92, 0.9]),
    ("C4", [0.05, 0.08, 0.04, 0.06, 0.1, 0.05, 0.07, 0.04, 0.08, 0.06, 0.05, 0.09, 0.04, 0.07, 0.06, 0.05],
     [0.95, 0.9, 0.97, 0.92, 0.88, 0.96, 0.91, 0.94, 0.9, 0.97, 0.92, 0.89, 0.95, 0.93, 0.9, 0.96]),
    ("C1", [0.3, 0.35, 0.25, 0.32, 0.28, 0.36, 0.3, 0.26, 0.34, 0.3, 0.28, 0.33, 0.27, 0.35, 0.3, 0.29],
     [1.0, 0.99, 1.0, 1.0, 0.99, 1.0, 1.0, 0.99, 1.0, 1.0, 0.99, 1.0, 1.0, 0.99, 1.0, 1.0]),
    ("C6", [0.25, 0.2, 0.28, 0.22, 0.26, 0.2, 0.27, 0.23, 0.25, 0.21, 0.28, 0.24, 0.22, 0.26, 0.2, 0.25],
     [0.75, 0.72, 0.78, 0.7, 0.76, 0.73, 0.77, 0.71, 0.75, 0.78, 0.72, 0.76, 0.7, 0.75, 0.73, 0.77]),
    ("C3", [0.0, 0.01, 0.0, 0.02, 0.0, 0.01, 0.0, 0.0, 0.02, 0.0, 0.01, 0.0, 0.0, 0.01, 0.02, 0.0],
     [0.5, 0.55, 0.45, 0.52, 0.58, 0.48, 0.53, 0.5, 0.46, 0.55, 0.5, 0.57, 0.48, 0.52, 0.5, 0.54]),
    ("C5", [0.0, 0.0, 0.01, 0.0, 0.0, 0.01, 0.0, 0.0, 0.01, 0.0, 0.0, 0.01, 0.0, 0.0, 0.01, 0.0],
     [0.4, 0.35, 0.42, 0.38, 0.36, 0.41, 0.37, 0.4, 0.35, 0.42, 0.38, 0.36, 0.4, 0.37, 0.41, 0.38]),
]
OMEGA_SPIKES = [("C3", 90, 0.3, 0.95), ("C5", 250, 0.2, 0.9), ("C3", 430, 0.3, 0.95), ("C5", 610, 0.2, 0.92),
                ("C3", 780, 0.3, 0.96), ("C5", 950, 0.2, 0.9)]
OMEGA_XTICKS = [0.0, 0.2, 0.4, 0.6, 0.8, 1.0]
OMEGA_YTICKS = [0.0, 0.25, 0.5, 0.75, 1.0]
OMEGA_YRANGE = [-0.096, 1.06]

# ---------------- alpha ----------------
ALPHA_KDE = [
    ("C6", "dash", [0.0, 0.2, 0.4, 0.6, 0.8], [0.01, 0.012, 0.01, 0.01, 0.01]),
    ("C6", "solid", [0.0, 0.1, 0.3, 0.5, 0.62, 0.67, 0.7, 0.73, 0.76, 0.78, 0.8],
     [0.02, 0.02, 0.015, 0.01, 0.015, 0.04, 0.08, 0.1, 0.08, 0.04, 0.01]),
    ("C5", "solid", [0.05, 0.12, 0.2, 0.27, 0.35], [0.02, 0.04, 0.05, 0.04, 0.01]),
    ("C1", "solid", [0.12, 0.18, 0.22, 0.26, 0.3, 0.35], [0.01, 0.05, 0.07, 0.06, 0.03, 0.01]),
    ("C4", "solid", [0.1, 0.17, 0.22, 0.25, 0.28, 0.33, 0.4], [0.01, 0.04, 0.08, 0.1, 0.08, 0.03, 0.01]),
    ("C8", "solid", [0.2, 0.25, 0.27, 0.29, 0.31, 0.34, 0.4], [0.01, 0.04, 0.08, 0.09, 0.08, 0.03, 0.01]),
    ("C9", "solid", [0.28, 0.32, 0.34, 0.35, 0.37, 0.4], [0.01, 0.05, 0.075, 0.08, 0.06, 0.01]),
    ("C3", "solid", [0.0, 0.02, 0.06, 0.15, 0.3, 0.45, 0.6], [0.12, 0.06, 0.04, 0.03, 0.025, 0.02, 0.01]),
    ("C0", "solid", [0.0, 0.01, 0.03, 0.08, 0.15, 0.25, 0.4], [0.15, 0.1, 0.06, 0.04, 0.03, 0.02, 0.01]),
    ("C2", "solid", [0.0, 0.005, 0.015, 0.03, 0.1, 0.3, 0.5], [0.3, 0.2, 0.1, 0.05, 0.03, 0.02, 0.01]),
    ("C9", "solid", [0.0, 0.003, 0.008, 0.015, 0.03, 0.1, 0.2], [0.68, 0.45, 0.2, 0.08, 0.05, 0.03, 0.02]),
    ("C7", "solid", [0.0, 0.002, 0.005, 0.01, 0.02, 0.05, 0.15, 0.3, 0.5], [1.0, 0.7, 0.3, 0.1, 0.05, 0.03, 0.02, 0.015, 0.01]),
]
ALPHA_RUG = [0.0, 0.01, 0.02, 0.04, 0.06, 0.09, 0.12, 0.125, 0.17, 0.19, 0.2, 0.22, 0.24, 0.29, 0.35, 0.36, 0.39, 0.74]
ALPHA_TRACE = [
    ("C6", [0.3, 0.28, 0.32, 0.29, 0.31, 0.28, 0.33, 0.3, 0.29, 0.32, 0.3, 0.28, 0.31, 0.3, 0.29, 0.32],
     [0.6, 0.55, 0.62, 0.58, 0.6, 0.56, 0.62, 0.58, 0.6, 0.55, 0.62, 0.6, 0.57, 0.61, 0.58, 0.6]),
    ("C8", [0.15, 0.17, 0.14, 0.16, 0.15, 0.18, 0.14, 0.16, 0.15, 0.17, 0.14, 0.16, 0.15, 0.18, 0.14, 0.16],
     [0.36, 0.38, 0.35, 0.37, 0.39, 0.36, 0.38, 0.35, 0.37, 0.39, 0.36, 0.38, 0.35, 0.37, 0.38, 0.36]),
    ("C4", [0.0, 0.01, 0.0, 0.0, 0.01, 0.0, 0.0, 0.01, 0.0, 0.0, 0.01, 0.0, 0.0, 0.01, 0.0, 0.0],
     [0.26, 0.28, 0.25, 0.27, 0.26, 0.29, 0.25, 0.27, 0.26, 0.28, 0.25, 0.27, 0.26, 0.28, 0.25, 0.27]),
    ("C3", [0.0, 0.0, 0.01, 0.0, 0.0, 0.01, 0.0, 0.0, 0.01, 0.0, 0.0, 0.01, 0.0, 0.0, 0.01, 0.0],
     [0.15, 0.14, 0.16, 0.15, 0.13, 0.16, 0.15, 0.14, 0.16, 0.15, 0.14, 0.16, 0.15, 0.13, 0.16, 0.15]),
    ("C5", [0.0, 0.0, 0.0, 0.0, 0.0, 0.0, 0.0, 0.0, 0.0, 0.0, 0.0, 0.0, 0.0, 0.0, 0.0, 0.0],
     [0.08, 0.07, 0.09, 0.08, 0.07, 0.09, 0.08, 0.07, 0.09, 0.08, 0.07, 0.09, 0.08, 0.07, 0.09, 0.08]),
    ("C6", [0.63, 0.61, 0.64, 0.6, 0.63, 0.62, 0.65, 0.61, 0.62, 0.64, 0.6, 0.63, 0.61, 0.64, 0.62, 0.63],
     [0.78, 0.77, 0.79, 0.78, 0.8, 0.77, 0.78, 0.79, 0.77, 0.8, 0.78, 0.77, 0.79, 0.78, 0.8, 0.78]),
]
ALPHA_SPIKES = [("C6", 40, 0.62, 0.35), ("C6", 130, 0.62, 0.4), ("C6", 260, 0.62, 0.36), ("C6", 330, 0.62, 0.42),
                ("C6", 430, 0.62, 0.38), ("C6", 560, 0.62, 0.35), ("C6", 640, 0.62, 0.4), ("C6", 720, 0.62, 0.37),
                ("C6", 800, 0.62, 0.42), ("C6", 870, 0.62, 0.36), ("C6", 960, 0.62, 0.39), ("C2", 210, 0.2, 0.45),
                ("C2", 30, 0.2, 0.52), ("C6", 90, 0.62, 0.45), ("C6", 190, 0.62, 0.44), ("C6", 500, 0.62, 0.45),
                ("C6", 680, 0.62, 0.44), ("C6", 910, 0.62, 0.45)]
ALPHA_XTICKS = [0.0, 0.1, 0.2, 0.3, 0.4, 0.5, 0.6, 0.7, 0.8]
ALPHA_YTICKS = [0.0, 0.2, 0.4, 0.6, 0.8]
ALPHA_YRANGE = [-0.078, 0.856]

# ---------------- theta ----------------
THETA_KDE = [
    ("C4", "solid", [0.3, 0.45, 0.55, 0.62, 0.7, 0.78, 0.85, 0.92, 0.99], [0.0, 0.04, 0.1, 0.14, 0.15, 0.14, 0.1, 0.05, 0.02]),
    ("C1", "dash", [0.3, 0.4, 0.5, 0.6, 0.7, 0.8, 0.9], [0.0, 0.05, 0.06, 0.04, 0.02, 0.01, 0.005]),
    ("C6", "solid", [0.66, 0.7, 0.74, 0.76, 0.78, 0.81, 0.85, 0.9, 0.95, 0.99], [0.0, 0.05, 0.2, 0.32, 0.37, 0.32, 0.2, 0.12, 0.07, 0.05]),
    ("C9", "solid", [0.0, 0.05, 0.1, 0.14, 0.18, 0.24, 0.3, 0.4], [0.05, 0.15, 0.28, 0.3, 0.26, 0.12, 0.04, 0.0]),
    ("C5", "solid", [0.0, 0.04, 0.07, 0.1, 0.14, 0.2, 0.27, 0.35], [0.1, 0.32, 0.44, 0.4, 0.3, 0.15, 0.05, 0.0]),
    ("C4", "dash", [0.0, 0.03, 0.06, 0.09, 0.12, 0.16, 0.22, 0.3], [0.2, 0.42, 0.5, 0.42, 0.3, 0.15, 0.05, 0.0]),
    ("C2", "solid", [0.0, 0.01, 0.018, 0.03, 0.06, 0.1, 0.15, 0.2, 0.3, 0.4], [0.42, 0.55, 0.61, 0.55, 0.38, 0.2, 0.08, 0.03, 0.005, 0.0]),
    ("C3", "solid", [0.12, 0.2, 0.25, 0.28, 0.3, 0.33, 0.38, 0.45, 0.55], [0.0, 0.08, 0.3, 0.42, 0.45, 0.4, 0.22, 0.07, 0.0]),
    ("C3", "dash", [0.25, 0.32, 0.36, 0.385, 0.398, 0.42, 0.45, 0.5, 0.6, 0.75], [0.0, 0.06, 0.35, 0.7, 0.8, 0.65, 0.35, 0.12, 0.03, 0.0]),
    ("C1", "solid", [0.27, 0.32, 0.36, 0.38, 0.39, 0.405, 0.43, 0.47, 0.55, 0.7], [0.0, 0.08, 0.45, 0.75, 0.86, 0.75, 0.42, 0.13, 0.03, 0.0]),
    ("C8", "solid", [0.24, 0.29, 0.33, 0.35, 0.365, 0.385, 0.41, 0.45, 0.5, 0.6], [0.0, 0.1, 0.45, 0.75, 0.85, 0.72, 0.4, 0.12, 0.03, 0.0]),
    ("C0", "solid", [0.22, 0.28, 0.32, 0.345, 0.36, 0.38, 0.4, 0.44, 0.5, 0.6], [0.0, 0.08, 0.4, 0.78, 0.89, 0.76, 0.45, 0.15, 0.03, 0.0]),
    ("C9", "dash", [0.18, 0.23, 0.26, 0.285, 0.30, 0.32, 0.345, 0.38, 0.44, 0.55], [0.0, 0.1, 0.42, 0.78, 0.89, 0.76, 0.45, 0.15, 0.03, 0.0]),
    ("C1", "solid", [0.12, 0.17, 0.2, 0.225, 0.24, 0.26, 0.285, 0.32, 0.38, 0.5], [0.0, 0.1, 0.4, 0.78, 0.9, 0.78, 0.45, 0.15, 0.03, 0.0]),
    ("C5", "solid", [0.15, 0.2, 0.23, 0.25, 0.262, 0.28, 0.3, 0.34, 0.4, 0.5], [0.0, 0.1, 0.45, 0.85, 1.0, 0.8, 0.45, 0.15, 0.03, 0.0]),
    ("C8", "dash", [0.64, 0.68, 0.7, 0.715, 0.724, 0.735, 0.75, 0.77, 0.8], [0.0, 0.15, 0.5, 0.78, 0.86, 0.7, 0.35, 0.08, 0.0]),
    ("C7", "solid", [0.65, 0.7, 0.72, 0.733, 0.74, 0.75, 0.765, 0.78, 0.82], [0.0, 0.12, 0.5, 0.82, 0.92, 0.8, 0.4, 0.1, 0.0]),
]
THETA_RUG = [0.02, 0.05, 0.08, 0.1, 0.12, 0.2, 0.22, 0.24, 0.26, 0.27, 0.28, 0.3, 0.35, 0.38, 0.4, 0.46, 0.6, 0.64, 0.74, 0.75]
THETA_TRACE = [
    ("C4", [0.55, 0.6, 0.52, 0.58, 0.56, 0.5, 0.6, 0.55, 0.53, 0.58, 0.55, 0.6, 0.52, 0.57, 0.55, 0.6],
     [0.95, 0.98, 0.93, 0.99, 0.96, 0.94, 1.0, 0.95, 0.97, 0.93, 0.99, 0.96, 0.94, 0.98, 0.95, 0.97]),
    ("C6", [0.62, 0.6, 0.65, 0.61, 0.63, 0.6, 0.64, 0.62, 0.6, 0.65, 0.61, 0.63, 0.6, 0.64, 0.62, 0.61],
     [0.98, 1.0, 0.96, 0.99, 1.0, 0.97, 0.99, 1.0, 0.98, 0.96, 1.0, 0.98, 0.99, 0.97, 1.0, 0.98]),
    ("C7", [0.68, 0.66, 0.7, 0.67, 0.69, 0.66, 0.7, 0.68, 0.67, 0.69, 0.66, 0.7, 0.68, 0.67, 0.69, 0.68],
     [0.8, 0.82, 0.79, 0.81, 0.8, 0.83, 0.79, 0.81, 0.82, 0.8, 0.81, 0.79, 0.82, 0.8, 0.81, 0.8]),
    ("C0", [0.25, 0.28, 0.24, 0.27, 0.26, 0.23, 0.28, 0.25, 0.27, 0.24, 0.26, 0.28, 0.25, 0.27, 0.24, 0.26],
     [0.62, 0.58, 0.65, 0.6, 0.63, 0.57, 0.64, 0.6, 0.58, 0.63, 0.6, 0.65, 0.58, 0.62, 0.6, 0.63]),
    ("C1", [0.16, 0.18, 0.15, 0.17, 0.16, 0.19, 0.15, 0.17, 0.16, 0.18, 0.15, 0.17, 0.16, 0.18, 0.15, 0.17],
     [0.32, 0.3, 0.34, 0.31, 0.33, 0.3, 0.32, 0.34, 0.31, 0.33, 0.3, 0.32, 0.34, 0.31, 0.33, 0.32]),
    ("C4", [0.24, 0.25, 0.23, 0.24, 0.25, 0.23, 0.24, 0.25, 0.24, 0.23, 0.25, 0.24, 0.23, 0.25, 0.24, 0.24],
     [0.3, 0.31, 0.29, 0.3, 0.31, 0.29, 0.3, 0.31, 0.3, 0.29, 0.31, 0.3, 0.29, 0.31, 0.3, 0.3]),
    ("C3", [0.28, 0.3, 0.27, 0.29, 0.28, 0.3, 0.27, 0.29, 0.28, 0.27, 0.3, 0.28, 0.29, 0.27, 0.3, 0.28],
     [0.5, 0.52, 0.48, 0.55, 0.5, 0.53, 0.49, 0.51, 0.54, 0.5, 0.52, 0.48, 0.53, 0.5, 0.51, 0.52]),
    ("C9", [0.03, 0.04, 0.02, 0.03, 0.04, 0.02, 0.03, 0.04, 0.03, 0.02, 0.04, 0.03, 0.02, 0.04, 0.03, 0.03],
     [0.22, 0.24, 0.21, 0.23, 0.22, 0.25, 0.21, 0.23, 0.22, 0.24, 0.21, 0.23, 0.22, 0.25, 0.21, 0.23]),
    ("C5", [0.02, 0.03, 0.02, 0.02, 0.03, 0.02, 0.02, 0.03, 0.02, 0.02, 0.03, 0.02, 0.02, 0.03, 0.02, 0.02],
     [0.16, 0.18, 0.15, 0.17, 0.16, 0.18, 0.15, 0.17, 0.16, 0.18, 0.15, 0.17, 0.16, 0.18, 0.15, 0.17]),
    ("C2", [0.0, 0.01, 0.0, 0.0, 0.01, 0.0, 0.0, 0.01, 0.0, 0.0, 0.01, 0.0, 0.0, 0.01, 0.0, 0.0],
     [0.15, 0.13, 0.16, 0.14, 0.15, 0.13, 0.16, 0.14, 0.15, 0.13, 0.16, 0.14, 0.15, 0.13, 0.16, 0.14]),
]
THETA_SPIKES = [("C0", 40, 0.4, 0.72), ("C3", 120, 0.4, 0.68), ("C1", 230, 0.3, 0.62), ("C0", 390, 0.4, 0.7),
                ("C3", 560, 0.4, 0.7), ("C1", 700, 0.3, 0.66), ("C0", 880, 0.4, 0.72), ("C3", 960, 0.4, 0.66),
                ("C4", 170, 0.8, 1.0), ("C6", 470, 0.8, 1.0), ("C4", 760, 0.8, 1.0)]
THETA_XTICKS = [0.0, 0.2, 0.4, 0.6, 0.8, 1.0]
THETA_YTICKS = [0.0, 0.25, 0.5, 0.75, 1.0]
THETA_YRANGE = [-0.1, 1.055]

# ---------------- muPsi ----------------
MUPSI_KDE = [
    ("C0", "solid", [0.24, 0.3, 0.35, 0.4, 0.445, 0.5, 0.55, 0.6, 0.65, 0.7, 0.75],
     [0.02, 0.08, 0.21, 0.55, 0.97, 0.76, 0.36, 0.15, 0.05, 0.02, 0.01]),
    ("C0", "dot", [0.166, 0.25, 0.3, 0.35, 0.4, 0.43, 0.47, 0.52, 0.57, 0.62, 0.7, 0.8, 0.868],
     [0.005, 0.03, 0.1, 0.25, 0.7, 1.0, 0.85, 0.5, 0.25, 0.1, 0.02, 0.005, 0.01]),
    ("C0", "dash", [0.25, 0.3, 0.35, 0.38, 0.42, 0.47, 0.5, 0.55, 0.6, 0.65, 0.7],
     [0.02, 0.07, 0.2, 0.38, 0.72, 0.86, 0.72, 0.4, 0.18, 0.06, 0.02]),
    ("C0", "dashdot", [0.25, 0.3, 0.35, 0.4, 0.45, 0.49, 0.55, 0.6, 0.65, 0.72],
     [0.02, 0.07, 0.22, 0.55, 0.92, 0.88, 0.42, 0.18, 0.06, 0.015]),
]
MUPSI_RUG = [0.323]
MUPSI_TRACE = [
    ("C0", [0.33, 0.3, 0.35, 0.32, 0.36, 0.3, 0.34, 0.33, 0.36, 0.31, 0.35, 0.32, 0.34, 0.3, 0.35,
            0.33, 0.36, 0.31, 0.34, 0.32, 0.35, 0.3, 0.33, 0.36, 0.32, 0.34, 0.3, 0.33, 0.35, 0.32],
     [0.6, 0.62, 0.58, 0.6, 0.57, 0.61, 0.6, 0.58, 0.62, 0.59, 0.6, 0.63, 0.58, 0.6, 0.61,
      0.57, 0.6, 0.62, 0.6, 0.58, 0.61, 0.6, 0.57, 0.62, 0.6, 0.61, 0.58, 0.6, 0.59, 0.6]),
]
MUPSI_SPIKES = [("C0", 25, 0.45, 0.7), ("C0", 60, 0.45, 0.7), ("C0", 105, 0.45, 0.69), ("C0", 225, 0.45, 0.69),
                ("C0", 395, 0.45, 0.74), ("C0", 600, 0.45, 0.75), ("C0", 855, 0.45, 0.87), ("C0", 895, 0.4, 0.17),
                ("C0", 930, 0.4, 0.24), ("C0", 470, 0.4, 0.25), ("C0", 330, 0.4, 0.26), ("C0", 970, 0.45, 0.69)]
MUPSI_XTICKS = [0.2, 0.3, 0.4, 0.5, 0.6, 0.7, 0.8, 0.9]
MUPSI_YTICKS = [0.2, 0.4, 0.6, 0.8]
MUPSI_YRANGE = [0.095, 0.913]

# ---------------- muOmega ----------------
MUOMEGA_KDE = [
    ("C0", "solid", [0.09, 0.15, 0.2, 0.25, 0.3, 0.35, 0.4, 0.45, 0.5, 0.55, 0.6, 0.65, 0.7, 0.75, 0.8, 0.85, 0.9, 0.955],
     [0.005, 0.015, 0.04, 0.08, 0.17, 0.29, 0.43, 0.54, 0.61, 0.66, 0.64, 0.57, 0.46, 0.35, 0.24, 0.15, 0.08, 0.036]),
    ("C0", "dash", [0.1, 0.2, 0.3, 0.4, 0.5, 0.58, 0.65, 0.72, 0.8, 0.88, 0.955],
     [0.005, 0.04, 0.16, 0.4, 0.58, 0.62, 0.58, 0.45, 0.27, 0.12, 0.04]),
    ("C1", "solid", [0.01, 0.05, 0.1, 0.15, 0.2, 0.25, 0.3, 0.35, 0.4, 0.45, 0.5, 0.6, 0.7, 0.87],
     [0.22, 0.4, 0.68, 0.75, 0.78, 0.68, 0.5, 0.375, 0.29, 0.21, 0.14, 0.04, 0.015, 0.005]),
    ("C1", "dot", [0.01, 0.05, 0.1, 0.17, 0.22, 0.27, 0.32, 0.4, 0.5, 0.6, 0.7, 0.87],
     [0.2, 0.38, 0.7, 0.82, 0.78, 0.62, 0.47, 0.3, 0.13, 0.04, 0.012, 0.005]),
    ("C2", "solid", [0.01, 0.05, 0.1, 0.15, 0.2, 0.25, 0.3, 0.35, 0.4, 0.5, 0.6, 0.7],
     [0.29, 0.46, 0.79, 0.96, 0.875, 0.68, 0.4, 0.24, 0.15, 0.055, 0.015, 0.005]),
    ("C2", "dot", [0.01, 0.05, 0.1, 0.155, 0.2, 0.25, 0.3, 0.4, 0.5, 0.6, 0.7],
     [0.3, 0.48, 0.82, 1.0, 0.9, 0.7, 0.42, 0.16, 0.06, 0.015, 0.005]),
]
MUOMEGA_RUG = [0.09, 0.12, 0.79]
MUOMEGA_TRACE = [
    ("C0", [0.3, 0.33, 0.28, 0.32, 0.3, 0.35, 0.29, 0.31, 0.33, 0.28, 0.3, 0.32, 0.29, 0.34, 0.3, 0.31, 0.28, 0.33, 0.3, 0.32, 0.29, 0.31, 0.33, 0.3],
     [0.85, 0.88, 0.83, 0.86, 0.84, 0.87, 0.85, 0.82, 0.88, 0.85, 0.83, 0.86, 0.84, 0.87, 0.85, 0.83, 0.86, 0.84, 0.88, 0.85, 0.83, 0.86, 0.84, 0.85]),
    ("C1", [0.05, 0.04, 0.06, 0.05, 0.03, 0.06, 0.05, 0.04, 0.06, 0.05, 0.04, 0.05, 0.06, 0.04, 0.05, 0.03, 0.06, 0.05, 0.04, 0.06, 0.05, 0.04, 0.05, 0.06],
     [0.45, 0.42, 0.48, 0.44, 0.46, 0.43, 0.45, 0.47, 0.44, 0.46, 0.43, 0.45, 0.48, 0.44, 0.46, 0.43, 0.45, 0.47, 0.44, 0.46, 0.43, 0.45, 0.44, 0.46]),
    ("C2", [0.04, 0.05, 0.03, 0.04, 0.05, 0.03, 0.04, 0.05, 0.04, 0.03, 0.05, 0.04, 0.03, 0.05, 0.04, 0.04, 0.03, 0.05, 0.04, 0.03, 0.05, 0.04, 0.03, 0.04],
     [0.38, 0.36, 0.4, 0.37, 0.39, 0.36, 0.38, 0.4, 0.37, 0.39, 0.36, 0.38, 0.4, 0.37, 0.38, 0.36, 0.39, 0.37, 0.4, 0.38, 0.36, 0.39, 0.37, 0.38]),
]
MUOMEGA_SPIKES = [("C0", 30, 0.7, 0.97), ("C0", 285, 0.7, 0.96), ("C0", 540, 0.7, 0.94), ("C0", 160, 0.7, 0.93),
                  ("C1", 170, 0.3, 0.62), ("C1", 600, 0.3, 0.75), ("C1", 660, 0.3, 0.73), ("C1", 440, 0.3, 0.65),
                  ("C1", 80, 0.3, 0.6), ("C1", 360, 0.3, 0.62), ("C1", 780, 0.3, 0.63), ("C1", 930, 0.3, 0.6),
                  ("C2", 45, 0.25, 0.6), ("C2", 850, 0.25, 0.58)]
MUOMEGA_XTICKS = [0.0, 0.2, 0.4, 0.6, 0.8, 1.0]
MUOMEGA_YTICKS = [0.0, 0.25, 0.5, 0.75, 1.0]
MUOMEGA_YRANGE = [-0.092, 1.01]

# ---------------- muAlpha ----------------
MUALPHA_KDE = [
    ("C0", "solid", [0.04, 0.08, 0.1, 0.15, 0.2, 0.25, 0.27, 0.3, 0.35, 0.4, 0.45, 0.5, 0.59],
     [0.01, 0.03, 0.04, 0.17, 0.41, 0.66, 0.68, 0.58, 0.36, 0.17, 0.06, 0.015, 0.003]),
    ("C0", "dash", [0.05, 0.1, 0.15, 0.2, 0.25, 0.28, 0.32, 0.36, 0.4, 0.45, 0.52, 0.58],
     [0.01, 0.04, 0.15, 0.37, 0.56, 0.61, 0.55, 0.38, 0.2, 0.07, 0.015, 0.003]),
    ("C1", "solid", [0.005, 0.02, 0.04, 0.06, 0.08, 0.1, 0.12, 0.15, 0.18, 0.2, 0.25, 0.3, 0.35, 0.41],
     [0.25, 0.36, 0.64, 0.77, 0.815, 0.77, 0.66, 0.5, 0.33, 0.26, 0.12, 0.055, 0.015, 0.005]),
    ("C1", "dash", [0.005, 0.02, 0.04, 0.07, 0.09, 0.11, 0.14, 0.17, 0.2, 0.25, 0.3, 0.35, 0.41],
     [0.22, 0.33, 0.6, 0.78, 0.8, 0.74, 0.58, 0.42, 0.3, 0.14, 0.06, 0.02, 0.005]),
    ("C2", "solid", [0.005, 0.02, 0.04, 0.06, 0.08, 0.1, 0.12, 0.15, 0.18, 0.2, 0.25, 0.3, 0.35, 0.38],
     [0.37, 0.47, 0.75, 0.94, 0.91, 0.8, 0.66, 0.47, 0.3, 0.22, 0.08, 0.03, 0.01, 0.005]),
    ("C2", "dot", [0.005, 0.02, 0.04, 0.058, 0.075, 0.1, 0.12, 0.15, 0.18, 0.22, 0.27, 0.32, 0.38],
     [0.35, 0.48, 0.8, 1.0, 0.95, 0.8, 0.65, 0.45, 0.28, 0.15, 0.06, 0.02, 0.005]),
]
MUALPHA_RUG = [0.028, 0.04, 0.255]
MUALPHA_TRACE = [
    ("C0", [0.17, 0.15, 0.18, 0.16, 0.17, 0.15, 0.18, 0.17, 0.16, 0.18, 0.15, 0.17, 0.16, 0.18, 0.17, 0.15, 0.17, 0.16, 0.18, 0.17, 0.15, 0.17, 0.16, 0.18],
     [0.4, 0.38, 0.42, 0.39, 0.41, 0.38, 0.4, 0.42, 0.39, 0.41, 0.38, 0.4, 0.42, 0.39, 0.4, 0.41, 0.38, 0.4, 0.42, 0.39, 0.41, 0.38, 0.4, 0.41]),
    ("C1", [0.02, 0.03, 0.02, 0.01, 0.03, 0.02, 0.02, 0.03, 0.01, 0.02, 0.03, 0.02, 0.02, 0.01, 0.03, 0.02, 0.02, 0.03, 0.02, 0.01, 0.02, 0.03, 0.02, 0.02],
     [0.24, 0.22, 0.26, 0.23, 0.25, 0.22, 0.24, 0.26, 0.23, 0.25, 0.22, 0.24, 0.26, 0.23, 0.24, 0.25, 0.22, 0.24, 0.26, 0.23, 0.25, 0.22, 0.24, 0.25]),
    ("C2", [0.02, 0.03, 0.02, 0.03, 0.02, 0.02, 0.03, 0.02, 0.03, 0.02, 0.02, 0.03, 0.02, 0.03, 0.02, 0.02, 0.03, 0.02, 0.03, 0.02, 0.02, 0.03, 0.02, 0.03],
     [0.2, 0.19, 0.21, 0.2, 0.18, 0.21, 0.2, 0.19, 0.21, 0.2, 0.19, 0.2, 0.21, 0.19, 0.2, 0.18, 0.21, 0.2, 0.19, 0.21, 0.2, 0.19, 0.2, 0.21]),
]
MUALPHA_SPIKES = [("C0", 25, 0.3, 0.52), ("C0", 345, 0.3, 0.6), ("C0", 660, 0.3, 0.55), ("C0", 170, 0.3, 0.5),
                  ("C0", 710, 0.3, 0.49), ("C0", 840, 0.3, 0.48), ("C1", 400, 0.1, 0.42), ("C1", 340, 0.1, 0.4),
                  ("C1", 750, 0.1, 0.38), ("C2", 850, 0.1, 0.4), ("C1", 120, 0.1, 0.35), ("C1", 560, 0.1, 0.36)]
MUALPHA_XTICKS = [0.0, 0.1, 0.2, 0.3, 0.4, 0.5, 0.6]
MUALPHA_YTICKS = [0.0, 0.2, 0.4, 0.6]
MUALPHA_YRANGE = [-0.059, 0.638]

PANELS = [
    ("muPsiAster", MUPSIASTER_KDE, MUPSIASTER_RUG, MUPSIASTER_TRACE, MUPSIASTER_SPIKES, MUPSIASTER_XTICKS, MUPSIASTER_YTICKS, MUPSIASTER_YRANGE),
    ("psiAsterTilde", PSIASTERTILDE_KDE, PSIASTERTILDE_RUG, PSIASTERTILDE_TRACE, PSIASTERTILDE_SPIKES, PSIASTERTILDE_XTICKS, PSIASTERTILDE_YTICKS, PSIASTERTILDE_YRANGE),
    ("muOmegaAster", MUOMEGAASTER_KDE, MUOMEGAASTER_RUG, MUOMEGAASTER_TRACE, MUOMEGAASTER_SPIKES, MUOMEGAASTER_XTICKS, MUOMEGAASTER_YTICKS, MUOMEGAASTER_YRANGE),
    ("omegaAsterTilde1", OMEGAASTERTILDE1_KDE, OMEGAASTERTILDE1_RUG, OMEGAASTERTILDE1_TRACE, OMEGAASTERTILDE1_SPIKES, OMEGAASTERTILDE1_XTICKS, OMEGAASTERTILDE1_YTICKS, OMEGAASTERTILDE1_YRANGE),
    ("tauPsiAster", TAUPSIASTER_KDE, TAUPSIASTER_RUG, TAUPSIASTER_TRACE, TAUPSIASTER_SPIKES, TAUPSIASTER_XTICKS, TAUPSIASTER_YTICKS, TAUPSIASTER_YRANGE),
    ("tauOmegaAster", TAUOMEGAASTER_KDE, TAUOMEGAASTER_RUG, TAUOMEGAASTER_TRACE, TAUOMEGAASTER_SPIKES, TAUOMEGAASTER_XTICKS, TAUOMEGAASTER_YTICKS, TAUOMEGAASTER_YRANGE),
    ("psiAster", PSIASTER_KDE, PSIASTER_RUG, PSIASTER_TRACE, PSIASTER_SPIKES, PSIASTER_XTICKS, PSIASTER_YTICKS, PSIASTER_YRANGE),
    ("psi", PSI_KDE, PSI_RUG, PSI_TRACE, PSI_SPIKES, PSI_XTICKS, PSI_YTICKS, PSI_YRANGE),
    ("omegaAster", OMEGAASTER_KDE, OMEGAASTER_RUG, OMEGAASTER_TRACE, OMEGAASTER_SPIKES, OMEGAASTER_XTICKS, OMEGAASTER_YTICKS, OMEGAASTER_YRANGE),
    ("omega", OMEGA_KDE, OMEGA_RUG, OMEGA_TRACE, OMEGA_SPIKES, OMEGA_XTICKS, OMEGA_YTICKS, OMEGA_YRANGE),
    ("alpha", ALPHA_KDE, ALPHA_RUG, ALPHA_TRACE, ALPHA_SPIKES, ALPHA_XTICKS, ALPHA_YTICKS, ALPHA_YRANGE),
    ("theta", THETA_KDE, THETA_RUG, THETA_TRACE, THETA_SPIKES, THETA_XTICKS, THETA_YTICKS, THETA_YRANGE),
    ("muPsi", MUPSI_KDE, MUPSI_RUG, MUPSI_TRACE, MUPSI_SPIKES, MUPSI_XTICKS, MUPSI_YTICKS, MUPSI_YRANGE),
    ("muOmega", MUOMEGA_KDE, MUOMEGA_RUG, MUOMEGA_TRACE, MUOMEGA_SPIKES, MUOMEGA_XTICKS, MUOMEGA_YTICKS, MUOMEGA_YRANGE),
    ("muAlpha", MUALPHA_KDE, MUALPHA_RUG, MUALPHA_TRACE, MUALPHA_SPIKES, MUALPHA_XTICKS, MUALPHA_YTICKS, MUALPHA_YRANGE),
]

KDE_YRANGE = [-0.115, 1.06]
RUG_TOP = 0.11
FONT = "DejaVu Sans"


def rgba(c, a):
    h = TAB10[c]
    return f"rgba({int(h[1:3], 16)},{int(h[3:5], 16)},{int(h[5:7], 16)},{a})"


def tick_text(vals):
    step = round(abs(vals[1] - vals[0]), 6)
    d = next(k for k in range(5) if abs(round(step, k) - step) < 1e-9)
    return [f"{v:.{d}f}".replace("-", "\u2212") for v in vals]


def ax(n):
    return "" if n == 1 else str(n)


fig = go.Figure()
layout = {}
annotations = []

for i, (name, kde, rug, trace, spikes, xticks, yticks, yrange) in enumerate(PANELS):
    top = 31 + i * 198.9
    bot = top + 141.5
    ydom = [1 - bot / H, 1 - top / H]
    nl, nr = 2 * i + 1, 2 * i + 2

    # left: density of each chain
    xmin = min(min(c[2]) for c in kde)
    xmax = max(max(c[2]) for c in kde)
    pad = (xmax - xmin) * 0.05
    for color, dash, xs, ys in kde:
        fig.add_trace(go.Scatter(x=xs, y=ys, mode="lines", xaxis="x" + ax(nl), yaxis="y" + ax(nl),
                                 line=dict(color=TAB10[color], width=1.3, dash=dash, shape="spline", smoothing=0.9),
                                 showlegend=False, hoverinfo="skip"))
    rx, ry = [], []
    for v in rug:
        rx += [v, v, None]
        ry += [KDE_YRANGE[0], RUG_TOP, None]
    fig.add_trace(go.Scatter(x=rx, y=ry, mode="lines", xaxis="x" + ax(nl), yaxis="y" + ax(nl),
                             line=dict(color="rgba(110,110,110,0.7)", width=1.4), showlegend=False, hoverinfo="skip"))

    # right: sampled values per draw, drawn as a band with a faint zigzag
    for color, lo, hi in trace:
        n = len(lo)
        xs = [k * N_DRAWS / (n - 1) for k in range(n)]
        fig.add_trace(go.Scatter(x=xs, y=lo, mode="lines", xaxis="x" + ax(nr), yaxis="y" + ax(nr),
                                 line=dict(width=0, color=rgba(color, 0)), showlegend=False, hoverinfo="skip"))
        fig.add_trace(go.Scatter(x=xs, y=hi, mode="lines", fill="tonexty", fillcolor=rgba(color, 0.34),
                                 xaxis="x" + ax(nr), yaxis="y" + ax(nr),
                                 line=dict(width=0, color=rgba(color, 0)), showlegend=False, hoverinfo="skip"))
        step = N_DRAWS / (2 * n - 1)
        zx, zy = [], []
        for k in range(n):
            zx += [2 * k * step, (2 * k + 1) * step]
            zy += [lo[k], hi[k]]
        fig.add_trace(go.Scatter(x=zx, y=zy, mode="lines", xaxis="x" + ax(nr), yaxis="y" + ax(nr),
                                 line=dict(width=0.5, color=rgba(color, 0.25)), showlegend=False, hoverinfo="skip"))
    for color in sorted(set(s[0] for s in spikes)):
        sx, sy = [], []
        for c, it, y0, y1 in spikes:
            if c == color:
                sx += [it, it, None]
                sy += [y0, y1, None]
        fig.add_trace(go.Scatter(x=sx, y=sy, mode="lines", xaxis="x" + ax(nr), yaxis="y" + ax(nr),
                                 line=dict(width=0.9, color=rgba(color, 0.5)), showlegend=False, hoverinfo="skip"))
    dx, dy = [], []
    for d in DIVERGENT_DRAWS:
        dx += [d, d, None]
        dy += [yrange[0], yrange[0] + 0.19 * (yrange[1] - yrange[0]), None]
    fig.add_trace(go.Scatter(x=dx, y=dy, mode="lines", xaxis="x" + ax(nr), yaxis="y" + ax(nr),
                             line=dict(color="rgba(110,110,110,0.7)", width=1.4), showlegend=False, hoverinfo="skip"))

    common = dict(showline=True, mirror=True, linecolor="black", linewidth=1.1, showgrid=False, zeroline=False,
                  ticks="outside", ticklen=5, tickwidth=1.1, tickcolor="black",
                  tickfont=dict(family=FONT, size=13.5, color="black"))
    layout["xaxis" + ax(nl)] = dict(common, domain=[10.5 / W, 563.5 / W], anchor="y" + ax(nl),
                                    range=[xmin - pad, xmax + pad], tickmode="array",
                                    tickvals=xticks, ticktext=tick_text(xticks))
    layout["yaxis" + ax(nl)] = dict(common, domain=ydom, anchor="x" + ax(nl), range=KDE_YRANGE,
                                    showticklabels=False, ticks="")
    layout["xaxis" + ax(nr)] = dict(common, domain=[625 / W, 1178 / W], anchor="y" + ax(nr),
                                    range=[0, N_DRAWS], tickmode="array", tickvals=TRACE_XTICKS,
                                    ticktext=tick_text(TRACE_XTICKS))
    layout["yaxis" + ax(nr)] = dict(common, domain=ydom, anchor="x" + ax(nr), range=yrange,
                                    tickmode="array", tickvals=yticks, ticktext=tick_text(yticks))

    for xc in [(10.5 + 563.5) / 2 / W, (625 + 1178) / 2 / W]:
        annotations.append(dict(text=name, x=xc, y=1 - (top - 5) / H, xref="paper", yref="paper",
                                xanchor="center", yanchor="bottom", showarrow=False,
                                font=dict(family=FONT, size=16, color="black")))

fig.update_layout(width=W, height=H, margin=dict(l=0, r=0, t=0, b=0), paper_bgcolor="white",
                  plot_bgcolor="white", showlegend=False, annotations=annotations, **layout)

fig.write_html("out.html")
